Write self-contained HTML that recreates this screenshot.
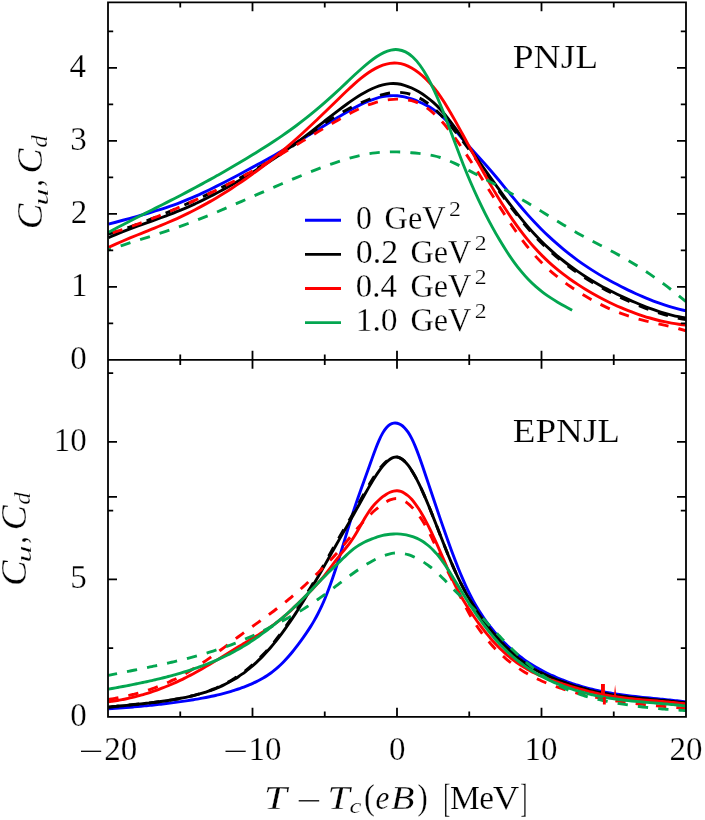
<!DOCTYPE html><html><head><meta charset="utf-8"><title>plot</title><style>html,body{margin:0;padding:0;background:#fff}svg{display:block;will-change:transform}text{font-family:"Liberation Serif",serif;fill:#000;stroke:#fff;stroke-width:0.25px}</style></head><body>
<svg width="705" height="820" viewBox="0 0 705 820">
<rect width="705" height="820" fill="#fff"/>
<defs><clipPath id="ct"><rect x="108.0" y="2.3" width="578.0" height="357.5"/></clipPath><clipPath id="cb"><rect x="108.0" y="359.8" width="578.0" height="357.0"/></clipPath></defs>
<g clip-path="url(#ct)">
<path d="M108.43 224.22C110.84 223.55 113.25 222.89 115.65 222.23C118.06 221.57 120.47 220.91 122.87 220.26C125.28 219.60 127.69 218.95 130.09 218.29C132.50 217.63 134.91 216.96 137.31 216.29C139.72 215.62 142.12 214.93 144.53 214.24C146.94 213.54 149.34 212.84 151.75 212.11C154.16 211.39 156.56 210.65 158.97 209.88C161.38 209.12 163.78 208.33 166.19 207.52C168.60 206.71 171.00 205.87 173.41 205.01C175.82 204.14 178.22 203.24 180.63 202.31C183.04 201.38 185.44 200.42 187.85 199.42C190.26 198.42 192.66 197.40 195.07 196.34C197.48 195.28 199.88 194.20 202.29 193.09C204.69 191.98 207.10 190.85 209.51 189.69C211.91 188.54 214.32 187.36 216.73 186.16C219.13 184.97 221.54 183.75 223.95 182.52C226.35 181.29 228.76 180.04 231.17 178.78C233.57 177.51 235.98 176.24 238.39 174.95C240.79 173.67 243.20 172.37 245.61 171.07C248.01 169.77 250.42 168.46 252.83 167.14C255.23 165.83 257.64 164.51 260.04 163.18C262.45 161.86 264.86 160.53 267.26 159.19C269.67 157.85 272.08 156.50 274.48 155.15C276.89 153.80 279.30 152.44 281.70 151.07C284.11 149.70 286.52 148.31 288.92 146.92C291.33 145.53 293.74 144.13 296.14 142.72C298.55 141.30 300.96 139.88 303.36 138.44C305.77 137.00 308.18 135.54 310.58 134.08C312.99 132.62 315.39 131.16 317.80 129.68C320.21 128.21 322.61 126.74 325.02 125.26C327.43 123.79 329.83 122.32 332.24 120.85C334.65 119.38 337.05 117.92 339.46 116.47C341.87 115.03 344.27 113.59 346.68 112.19C349.09 110.79 351.49 109.42 353.90 108.11C356.31 106.80 358.71 105.55 361.12 104.39C363.53 103.22 365.93 102.13 368.34 101.15C370.74 100.17 373.15 99.29 375.56 98.54C377.96 97.79 380.37 97.17 382.78 96.69C385.18 96.21 387.59 95.88 390.00 95.73C392.40 95.57 394.81 95.58 397.22 95.78C399.62 95.98 402.03 96.37 404.44 96.92C406.84 97.46 409.25 98.16 411.66 98.97C414.06 99.79 416.47 100.72 418.88 101.73C421.28 102.75 423.69 103.84 426.10 105.09C428.50 106.34 430.91 107.74 433.31 109.35C435.72 110.97 438.13 112.80 440.53 114.91C442.94 117.03 445.35 119.42 447.75 121.98C450.16 124.54 452.57 127.27 454.97 130.05C457.38 132.83 459.79 135.66 462.19 138.43C464.60 141.21 467.01 143.93 469.41 146.62C471.82 149.32 474.23 151.99 476.63 154.66C479.04 157.33 481.45 160.01 483.85 162.72C486.26 165.43 488.66 168.17 491.07 170.98C493.48 173.78 495.88 176.65 498.29 179.55C500.70 182.46 503.10 185.39 505.51 188.33C507.92 191.27 510.32 194.21 512.73 197.13C515.14 200.05 517.54 202.94 519.95 205.78C522.36 208.63 524.76 211.42 527.17 214.12C529.58 216.83 531.98 219.46 534.39 222.01C536.80 224.56 539.20 227.03 541.61 229.43C544.01 231.83 546.42 234.15 548.83 236.41C551.23 238.66 553.64 240.85 556.05 242.96C558.45 245.08 560.86 247.13 563.27 249.12C565.67 251.10 568.08 253.03 570.49 254.89C572.89 256.76 575.30 258.56 577.71 260.31C580.11 262.06 582.52 263.75 584.93 265.39C587.33 267.03 589.74 268.61 592.15 270.15C594.55 271.69 596.96 273.18 599.37 274.63C601.77 276.07 604.18 277.47 606.58 278.83C608.99 280.20 611.40 281.52 613.80 282.80C616.21 284.08 618.62 285.33 621.02 286.55C623.43 287.76 625.84 288.95 628.24 290.10C630.65 291.26 633.06 292.38 635.46 293.48C637.87 294.58 640.28 295.64 642.68 296.67C645.09 297.70 647.50 298.69 649.90 299.65C652.31 300.61 654.72 301.53 657.12 302.41C659.53 303.29 661.93 304.13 664.34 304.93C666.75 305.72 669.15 306.48 671.56 307.18C673.97 307.89 676.37 308.55 678.78 309.16C681.19 309.77 683.59 310.33 686.00 310.84" fill="none" stroke="#0000ff" stroke-width="2.90"/>
<path d="M108.43 237.80C110.84 236.71 113.25 235.67 115.65 234.66C118.06 233.64 120.47 232.66 122.87 231.71C125.28 230.76 127.69 229.83 130.09 228.92C132.50 228.01 134.91 227.12 137.31 226.24C139.72 225.37 142.12 224.50 144.53 223.64C146.94 222.78 149.34 221.92 151.75 221.06C154.16 220.20 156.56 219.34 158.97 218.46C161.38 217.59 163.78 216.71 166.19 215.81C168.60 214.91 171.00 214.00 173.41 213.06C175.82 212.12 178.22 211.15 180.63 210.16C183.04 209.16 185.44 208.14 187.85 207.08C190.26 206.03 192.66 204.94 195.07 203.83C197.48 202.71 199.88 201.57 202.29 200.40C204.69 199.23 207.10 198.03 209.51 196.81C211.91 195.59 214.32 194.34 216.73 193.06C219.13 191.79 221.54 190.49 223.95 189.17C226.35 187.84 228.76 186.50 231.17 185.13C233.57 183.76 235.98 182.36 238.39 180.95C240.79 179.54 243.20 178.10 245.61 176.64C248.01 175.19 250.42 173.71 252.83 172.22C255.23 170.72 257.64 169.20 260.04 167.67C262.45 166.13 264.86 164.58 267.26 163.00C269.67 161.42 272.08 159.82 274.48 158.20C276.89 156.58 279.30 154.93 281.70 153.26C284.11 151.60 286.52 149.90 288.92 148.19C291.33 146.47 293.74 144.73 296.14 142.96C298.55 141.19 300.96 139.40 303.36 137.58C305.77 135.76 308.18 133.91 310.58 132.05C312.99 130.18 315.39 128.30 317.80 126.42C320.21 124.53 322.61 122.64 325.02 120.76C327.43 118.87 329.83 116.99 332.24 115.13C334.65 113.27 337.05 111.42 339.46 109.59C341.87 107.77 344.27 105.98 346.68 104.23C349.09 102.49 351.49 100.79 353.90 99.17C356.31 97.55 358.71 96.01 361.12 94.56C363.53 93.11 365.93 91.77 368.34 90.54C370.74 89.31 373.15 88.21 375.56 87.26C377.96 86.31 380.37 85.52 382.78 84.91C385.18 84.31 387.59 83.89 390.00 83.68C392.40 83.48 394.81 83.50 397.22 83.77C399.62 84.03 402.03 84.55 404.44 85.27C406.84 86.00 409.25 86.94 411.66 88.05C414.06 89.16 416.47 90.45 418.88 91.87C421.28 93.30 423.69 94.86 426.10 96.61C428.50 98.35 430.91 100.27 433.31 102.42C435.72 104.56 438.13 106.93 440.53 109.55C442.94 112.18 445.35 115.06 447.75 118.12C450.16 121.17 452.57 124.40 454.97 127.71C457.38 131.02 459.79 134.41 462.19 137.80C464.60 141.19 467.01 144.58 469.41 147.96C471.82 151.35 474.23 154.73 476.63 158.11C479.04 161.49 481.45 164.86 483.85 168.23C486.26 171.60 488.66 174.97 491.07 178.34C493.48 181.70 495.88 185.06 498.29 188.39C500.70 191.72 503.10 195.03 505.51 198.29C507.92 201.55 510.32 204.77 512.73 207.92C515.14 211.06 517.54 214.15 519.95 217.14C522.36 220.14 524.76 223.05 527.17 225.85C529.58 228.65 531.98 231.35 534.39 233.94C536.80 236.54 539.20 239.03 541.61 241.43C544.01 243.84 546.42 246.15 548.83 248.37C551.23 250.60 553.64 252.74 556.05 254.80C558.45 256.86 560.86 258.84 563.27 260.75C565.67 262.67 568.08 264.51 570.49 266.28C572.89 268.06 575.30 269.77 577.71 271.43C580.11 273.08 582.52 274.68 584.93 276.22C587.33 277.77 589.74 279.26 592.15 280.71C594.55 282.15 596.96 283.55 599.37 284.90C601.77 286.26 604.18 287.57 606.58 288.84C608.99 290.11 611.40 291.35 613.80 292.55C616.21 293.75 618.62 294.91 621.02 296.05C623.43 297.18 625.84 298.29 628.24 299.37C630.65 300.45 633.06 301.51 635.46 302.53C637.87 303.56 640.28 304.55 642.68 305.51C645.09 306.47 647.50 307.40 649.90 308.29C652.31 309.17 654.72 310.02 657.12 310.82C659.53 311.62 661.93 312.37 664.34 313.08C666.75 313.79 669.15 314.44 671.56 315.04C673.97 315.64 676.37 316.19 678.78 316.67C681.19 317.16 683.59 317.58 686.00 317.94" fill="none" stroke="#000000" stroke-width="2.90"/>
<path d="M108.00 234.21C110.41 233.48 112.82 232.73 115.22 231.96C117.63 231.19 120.04 230.40 122.45 229.59C124.86 228.78 127.27 227.94 129.68 227.09C132.08 226.24 134.49 225.37 136.90 224.48C139.31 223.59 141.72 222.69 144.12 221.77C146.53 220.85 148.94 219.91 151.35 218.95C153.76 218.00 156.17 217.03 158.57 216.05C160.98 215.07 163.39 214.07 165.80 213.06C168.21 212.05 170.62 211.03 173.03 210.00C175.43 208.96 177.84 207.92 180.25 206.86C182.66 205.81 185.07 204.74 187.47 203.67C189.88 202.59 192.29 201.50 194.70 200.40C197.11 199.30 199.52 198.19 201.93 197.06C204.33 195.93 206.74 194.79 209.15 193.64C211.56 192.48 213.97 191.31 216.38 190.13C218.78 188.94 221.19 187.74 223.60 186.52C226.01 185.30 228.42 184.07 230.82 182.81C233.23 181.56 235.64 180.29 238.05 178.99C240.46 177.70 242.87 176.39 245.28 175.06C247.68 173.73 250.09 172.38 252.50 171.00C254.91 169.63 257.32 168.23 259.73 166.81C262.13 165.40 264.54 163.96 266.95 162.49C269.36 161.03 271.77 159.55 274.18 158.04C276.58 156.53 278.99 155.00 281.40 153.44C283.81 151.89 286.22 150.31 288.62 148.71C291.03 147.11 293.44 145.49 295.85 143.84C298.26 142.19 300.67 140.52 303.07 138.82C305.48 137.12 307.89 135.40 310.30 133.68C312.71 131.95 315.12 130.22 317.52 128.51C319.93 126.79 322.34 125.09 324.75 123.43C327.16 121.76 329.57 120.14 331.98 118.56C334.38 116.99 336.79 115.48 339.20 114.04C341.61 112.59 344.02 111.23 346.43 109.93C348.83 108.63 351.24 107.40 353.65 106.22C356.06 105.04 358.47 103.92 360.88 102.85C363.28 101.78 365.69 100.75 368.10 99.76C370.51 98.78 372.92 97.82 375.32 96.95C377.73 96.08 380.14 95.29 382.55 94.61C384.96 93.94 387.37 93.38 389.77 92.99C392.18 92.60 394.59 92.36 397.00 92.33C399.41 92.30 401.82 92.47 404.23 92.85C406.63 93.23 409.04 93.82 411.45 94.62C413.86 95.42 416.27 96.43 418.68 97.67C421.08 98.91 423.49 100.36 425.90 102.03C428.31 103.69 430.72 105.56 433.12 107.63C435.53 109.70 437.94 111.97 440.35 114.42C442.76 116.87 445.17 119.51 447.57 122.29C449.98 125.06 452.39 127.98 454.80 130.99C457.21 134.00 459.62 137.11 462.02 140.27C464.43 143.43 466.84 146.64 469.25 149.88C471.66 153.13 474.07 156.42 476.48 159.72C478.88 163.03 481.29 166.37 483.70 169.71C486.11 173.06 488.52 176.41 490.93 179.77C493.33 183.12 495.74 186.48 498.15 189.80C500.56 193.13 502.97 196.44 505.38 199.70C507.78 202.97 510.19 206.19 512.60 209.34C515.01 212.49 517.42 215.58 519.83 218.59C522.23 221.59 524.64 224.50 527.05 227.31C529.46 230.12 531.87 232.82 534.27 235.42C536.68 238.03 539.09 240.53 541.50 242.93C543.91 245.34 546.32 247.66 548.73 249.89C551.13 252.12 553.54 254.26 555.95 256.32C558.36 258.39 560.77 260.37 563.17 262.29C565.58 264.20 567.99 266.05 570.40 267.82C572.81 269.60 575.22 271.32 577.62 272.97C580.03 274.63 582.44 276.23 584.85 277.78C587.26 279.33 589.67 280.82 592.08 282.27C594.48 283.72 596.89 285.12 599.30 286.47C601.71 287.83 604.12 289.14 606.52 290.42C608.93 291.69 611.34 292.93 613.75 294.13C616.16 295.33 618.57 296.49 620.98 297.63C623.38 298.77 625.79 299.87 628.20 300.96C630.61 302.04 633.02 303.10 635.42 304.12C637.83 305.15 640.24 306.15 642.65 307.11C645.06 308.07 647.47 309.00 649.88 309.88C652.28 310.77 654.69 311.61 657.10 312.42C659.51 313.22 661.92 313.97 664.33 314.68C666.73 315.39 669.14 316.04 671.55 316.64C673.96 317.24 676.37 317.79 678.77 318.28C681.18 318.76 683.59 319.19 686.00 319.55" fill="none" stroke="#000000" stroke-width="2.90" stroke-dasharray="10.3 10.15" stroke-dashoffset="0.0"/>
<path d="M108.43 247.47C110.84 246.33 113.25 245.23 115.65 244.15C118.06 243.08 120.47 242.03 122.87 241.00C125.28 239.97 127.69 238.96 130.09 237.96C132.50 236.96 134.91 235.98 137.31 235.00C139.72 234.03 142.12 233.06 144.53 232.09C146.94 231.12 149.34 230.16 151.75 229.18C154.16 228.21 156.56 227.23 158.97 226.24C161.38 225.25 163.78 224.25 166.19 223.22C168.60 222.20 171.00 221.16 173.41 220.10C175.82 219.03 178.22 217.94 180.63 216.82C183.04 215.70 185.44 214.55 187.85 213.36C190.26 212.18 192.66 210.96 195.07 209.72C197.48 208.47 199.88 207.19 202.29 205.89C204.69 204.58 207.10 203.24 209.51 201.87C211.91 200.50 214.32 199.10 216.73 197.66C219.13 196.23 221.54 194.77 223.95 193.27C226.35 191.77 228.76 190.25 231.17 188.69C233.57 187.13 235.98 185.54 238.39 183.92C240.79 182.31 243.20 180.65 245.61 178.97C248.01 177.29 250.42 175.58 252.83 173.83C255.23 172.09 257.64 170.31 260.04 168.50C262.45 166.70 264.86 164.86 267.26 162.99C269.67 161.12 272.08 159.21 274.48 157.28C276.89 155.34 279.30 153.38 281.70 151.38C284.11 149.38 286.52 147.34 288.92 145.28C291.33 143.21 293.74 141.11 296.14 138.98C298.55 136.85 300.96 134.68 303.36 132.48C305.77 130.28 308.18 128.05 310.58 125.79C312.99 123.53 315.39 121.25 317.80 118.95C320.21 116.64 322.61 114.32 325.02 111.99C327.43 109.67 329.83 107.33 332.24 104.98C334.65 102.64 337.05 100.30 339.46 97.96C341.87 95.62 344.27 93.29 346.68 91.01C349.09 88.72 351.49 86.49 353.90 84.34C356.31 82.18 358.71 80.12 361.12 78.18C363.53 76.24 365.93 74.42 368.34 72.77C370.74 71.12 373.15 69.64 375.56 68.35C377.96 67.06 380.37 65.98 382.78 65.13C385.18 64.28 387.59 63.66 390.00 63.32C392.40 62.98 394.81 62.91 397.22 63.14C399.62 63.38 402.03 63.91 404.44 64.74C406.84 65.56 409.25 66.66 411.66 68.02C414.06 69.38 416.47 71.01 418.88 72.86C421.28 74.72 423.69 76.82 426.10 79.17C428.50 81.53 430.91 84.14 433.31 87.04C435.72 89.94 438.13 93.12 440.53 96.61C442.94 100.10 445.35 103.89 447.75 107.89C450.16 111.88 452.57 116.09 454.97 120.40C457.38 124.71 459.79 129.13 462.19 133.55C464.60 137.98 467.01 142.42 469.41 146.85C471.82 151.28 474.23 155.69 476.63 160.07C479.04 164.44 481.45 168.77 483.85 173.04C486.26 177.31 488.66 181.51 491.07 185.62C493.48 189.72 495.88 193.74 498.29 197.66C500.70 201.57 503.10 205.38 505.51 209.08C507.92 212.78 510.32 216.37 512.73 219.84C515.14 223.31 517.54 226.65 519.95 229.86C522.36 233.08 524.76 236.16 527.17 239.10C529.58 242.04 531.98 244.84 534.39 247.51C536.80 250.18 539.20 252.72 541.61 255.14C544.01 257.57 546.42 259.88 548.83 262.08C551.23 264.29 553.64 266.39 556.05 268.40C558.45 270.41 560.86 272.34 563.27 274.18C565.67 276.02 568.08 277.79 570.49 279.49C572.89 281.19 575.30 282.82 577.71 284.41C580.11 285.99 582.52 287.52 584.93 289.00C587.33 290.48 589.74 291.91 592.15 293.29C594.55 294.67 596.96 296.00 599.37 297.28C601.77 298.57 604.18 299.80 606.58 301.00C608.99 302.19 611.40 303.34 613.80 304.45C616.21 305.55 618.62 306.62 621.02 307.64C623.43 308.67 625.84 309.65 628.24 310.59C630.65 311.54 633.06 312.44 635.46 313.31C637.87 314.18 640.28 315.00 642.68 315.79C645.09 316.57 647.50 317.31 649.90 318.01C652.31 318.71 654.72 319.36 657.12 319.97C659.53 320.58 661.93 321.15 664.34 321.66C666.75 322.18 669.15 322.65 671.56 323.07C673.97 323.50 676.37 323.87 678.78 324.19C681.19 324.51 683.59 324.79 686.00 325.01" fill="none" stroke="#ff0000" stroke-width="2.90"/>
<path d="M108.00 234.21C110.41 233.48 112.82 232.73 115.22 231.96C117.63 231.19 120.04 230.39 122.45 229.58C124.86 228.77 127.27 227.94 129.68 227.08C132.08 226.23 134.49 225.36 136.90 224.48C139.31 223.59 141.72 222.69 144.12 221.77C146.53 220.85 148.94 219.91 151.35 218.96C153.76 218.00 156.17 217.04 158.57 216.06C160.98 215.07 163.39 214.08 165.80 213.07C168.21 212.06 170.62 211.04 173.03 210.01C175.43 208.97 177.84 207.93 180.25 206.87C182.66 205.81 185.07 204.75 187.47 203.67C189.88 202.59 192.29 201.50 194.70 200.39C197.11 199.29 199.52 198.18 201.93 197.05C204.33 195.92 206.74 194.77 209.15 193.62C211.56 192.46 213.97 191.29 216.38 190.10C218.78 188.92 221.19 187.72 223.60 186.50C226.01 185.28 228.42 184.05 230.82 182.80C233.23 181.55 235.64 180.29 238.05 179.01C240.46 177.72 242.87 176.42 245.28 175.10C247.68 173.78 250.09 172.45 252.50 171.09C254.91 169.73 257.32 168.36 259.73 166.97C262.13 165.58 264.54 164.17 266.95 162.75C269.36 161.33 271.77 159.90 274.18 158.45C276.58 157.01 278.99 155.56 281.40 154.10C283.81 152.64 286.22 151.18 288.62 149.71C291.03 148.24 293.44 146.77 295.85 145.30C298.26 143.83 300.67 142.35 303.07 140.88C305.48 139.42 307.89 137.95 310.30 136.49C312.71 135.03 315.12 133.57 317.52 132.12C319.93 130.68 322.34 129.24 324.75 127.81C327.16 126.38 329.57 124.96 331.98 123.56C334.38 122.15 336.79 120.76 339.20 119.38C341.61 118.00 344.02 116.64 346.43 115.32C348.83 114.00 351.24 112.71 353.65 111.48C356.06 110.25 358.47 109.08 360.88 107.99C363.28 106.90 365.69 105.89 368.10 104.98C370.51 104.07 372.92 103.26 375.32 102.55C377.73 101.85 380.14 101.25 382.55 100.76C384.96 100.27 387.37 99.89 389.77 99.62C392.18 99.35 394.59 99.20 397.00 99.16C399.41 99.12 401.82 99.20 404.23 99.44C406.63 99.68 409.04 100.09 411.45 100.71C413.86 101.33 416.27 102.16 418.68 103.25C421.08 104.34 423.49 105.69 425.90 107.29C428.31 108.89 430.72 110.74 433.12 112.83C435.53 114.93 437.94 117.27 440.35 119.84C442.76 122.42 445.17 125.23 447.57 128.22C449.98 131.22 452.39 134.40 454.80 137.72C457.21 141.03 459.62 144.48 462.02 148.02C464.43 151.55 466.84 155.16 469.25 158.84C471.66 162.52 474.07 166.25 476.48 170.03C478.88 173.81 481.29 177.62 483.70 181.45C486.11 185.28 488.52 189.12 490.93 192.96C493.33 196.80 495.74 200.64 498.15 204.43C500.56 208.23 502.97 211.99 505.38 215.68C507.78 219.37 510.19 223.00 512.60 226.52C515.01 230.05 517.42 233.48 519.83 236.77C522.23 240.07 524.64 243.24 527.05 246.25C529.46 249.26 531.87 252.11 534.27 254.82C536.68 257.52 539.09 260.08 541.50 262.52C543.91 264.95 546.32 267.25 548.73 269.45C551.13 271.64 553.54 273.72 555.95 275.70C558.36 277.68 560.77 279.56 563.17 281.37C565.58 283.17 567.99 284.89 570.40 286.55C572.81 288.21 575.22 289.80 577.62 291.34C580.03 292.88 582.44 294.37 584.85 295.80C587.26 297.24 589.67 298.63 592.08 299.97C594.48 301.30 596.89 302.58 599.30 303.81C601.71 305.04 604.12 306.22 606.52 307.34C608.93 308.47 611.34 309.53 613.75 310.55C616.16 311.56 618.57 312.52 620.98 313.42C623.38 314.32 625.79 315.17 628.20 315.95C630.61 316.74 633.02 317.47 635.42 318.16C637.83 318.85 640.24 319.49 642.65 320.10C645.06 320.72 647.47 321.30 649.88 321.87C652.28 322.43 654.69 322.98 657.10 323.53C659.51 324.07 661.92 324.62 664.33 325.17C666.73 325.73 669.14 326.29 671.55 326.88C673.96 327.47 676.37 328.08 678.77 328.73C681.18 329.38 683.59 330.06 686.00 330.80" fill="none" stroke="#ff0000" stroke-width="2.90" stroke-dasharray="10.3 10.15" stroke-dashoffset="15.6"/>
<path d="M108.43 232.32C110.85 231.02 113.26 229.74 115.68 228.46C118.09 227.19 120.51 225.93 122.92 224.68C125.34 223.43 127.75 222.18 130.17 220.95C132.58 219.71 135.00 218.48 137.41 217.25C139.83 216.03 142.24 214.81 144.66 213.59C147.08 212.37 149.49 211.16 151.91 209.94C154.32 208.72 156.74 207.51 159.15 206.29C161.57 205.07 163.98 203.84 166.40 202.62C168.81 201.39 171.23 200.16 173.64 198.92C176.06 197.68 178.47 196.44 180.89 195.18C183.30 193.92 185.72 192.66 188.13 191.39C190.55 190.11 192.96 188.83 195.38 187.53C197.79 186.24 200.21 184.93 202.62 183.62C205.04 182.30 207.45 180.98 209.87 179.64C212.28 178.30 214.70 176.95 217.11 175.60C219.53 174.24 221.94 172.87 224.36 171.48C226.77 170.10 229.19 168.71 231.60 167.30C234.02 165.90 236.43 164.48 238.85 163.05C241.26 161.62 243.68 160.18 246.09 158.72C248.51 157.27 250.92 155.80 253.34 154.32C255.76 152.83 258.17 151.34 260.59 149.83C263.00 148.31 265.42 146.78 267.83 145.23C270.25 143.67 272.66 142.10 275.08 140.50C277.49 138.89 279.91 137.26 282.32 135.60C284.74 133.94 287.15 132.25 289.57 130.52C291.98 128.80 294.40 127.03 296.81 125.23C299.23 123.43 301.64 121.59 304.06 119.70C306.47 117.82 308.89 115.89 311.30 113.92C313.72 111.95 316.13 109.94 318.55 107.89C320.96 105.84 323.38 103.75 325.79 101.62C328.21 99.50 330.62 97.33 333.04 95.14C335.45 92.94 337.87 90.70 340.28 88.44C342.70 86.17 345.11 83.88 347.53 81.59C349.94 79.30 352.36 77.02 354.77 74.78C357.19 72.54 359.60 70.34 362.02 68.22C364.43 66.10 366.85 64.05 369.27 62.12C371.68 60.18 374.10 58.37 376.51 56.75C378.93 55.13 381.34 53.71 383.76 52.57C386.17 51.43 388.59 50.57 391.00 50.06C393.42 49.56 395.83 49.41 398.25 49.70C400.66 50.00 403.08 50.72 405.49 51.92C407.91 53.13 410.32 54.81 412.74 57.01C415.15 59.22 417.57 61.95 419.98 65.24C422.40 68.53 424.81 72.38 427.23 76.70C429.64 81.03 432.06 85.83 434.47 91.06C436.89 96.28 439.30 101.93 441.72 107.92C444.13 113.90 446.55 120.22 448.96 126.65C451.38 133.08 453.79 139.62 456.21 146.08C458.62 152.54 461.04 158.90 463.45 164.99C465.87 171.07 468.28 176.90 470.70 182.50C473.11 188.10 475.53 193.48 477.94 198.64C480.36 203.81 482.78 208.77 485.19 213.54C487.61 218.32 490.02 222.91 492.44 227.33C494.85 231.76 497.27 236.01 499.68 240.09C502.10 244.17 504.51 248.07 506.93 251.78C509.34 255.49 511.76 259.01 514.17 262.33C516.59 265.65 519.00 268.78 521.42 271.69C523.83 274.61 526.25 277.32 528.66 279.81C531.08 282.31 533.49 284.59 535.91 286.71C538.32 288.83 540.74 290.77 543.15 292.58C545.57 294.40 547.98 296.08 550.40 297.66C552.81 299.24 555.23 300.73 557.64 302.15C560.06 303.58 562.47 304.95 564.89 306.29C567.30 307.63 569.72 308.95 572.13 310.29" fill="none" stroke="#03a650" stroke-width="2.90"/>
<path d="M108.00 250.22C110.41 249.36 112.82 248.53 115.22 247.71C117.63 246.89 120.04 246.09 122.45 245.30C124.86 244.50 127.27 243.72 129.68 242.95C132.08 242.17 134.49 241.40 136.90 240.64C139.31 239.87 141.72 239.11 144.12 238.35C146.53 237.59 148.94 236.83 151.35 236.06C153.76 235.29 156.17 234.52 158.57 233.74C160.98 232.96 163.39 232.18 165.80 231.38C168.21 230.58 170.62 229.77 173.03 228.94C175.43 228.11 177.84 227.27 180.25 226.41C182.66 225.54 185.07 224.66 187.47 223.76C189.88 222.86 192.29 221.94 194.70 221.01C197.11 220.08 199.52 219.13 201.93 218.17C204.33 217.21 206.74 216.23 209.15 215.24C211.56 214.25 213.97 213.25 216.38 212.24C218.78 211.24 221.19 210.22 223.60 209.19C226.01 208.16 228.42 207.13 230.82 206.09C233.23 205.05 235.64 204.00 238.05 202.95C240.46 201.90 242.87 200.84 245.28 199.79C247.68 198.73 250.09 197.67 252.50 196.61C254.91 195.55 257.32 194.49 259.73 193.44C262.13 192.38 264.54 191.32 266.95 190.27C269.36 189.22 271.77 188.17 274.18 187.12C276.58 186.08 278.99 185.04 281.40 184.00C283.81 182.97 286.22 181.94 288.62 180.92C291.03 179.90 293.44 178.89 295.85 177.89C298.26 176.88 300.67 175.89 303.07 174.91C305.48 173.92 307.89 172.95 310.30 171.99C312.71 171.03 315.12 170.09 317.52 169.16C319.93 168.24 322.34 167.33 324.75 166.44C327.16 165.55 329.57 164.68 331.98 163.84C334.38 163.00 336.79 162.18 339.20 161.39C341.61 160.59 344.02 159.83 346.43 159.10C348.83 158.38 351.24 157.69 353.65 157.05C356.06 156.41 358.47 155.81 360.88 155.28C363.28 154.75 365.69 154.27 368.10 153.86C370.51 153.46 372.92 153.12 375.32 152.85C377.73 152.57 380.14 152.36 382.55 152.21C384.96 152.05 387.37 151.96 389.77 151.91C392.18 151.86 394.59 151.87 397.00 151.92C399.41 151.97 401.82 152.06 404.23 152.19C406.63 152.33 409.04 152.50 411.45 152.70C413.86 152.91 416.27 153.14 418.68 153.40C421.08 153.67 423.49 153.96 425.90 154.31C428.31 154.66 430.72 155.08 433.12 155.60C435.53 156.12 437.94 156.74 440.35 157.50C442.76 158.26 445.17 159.15 447.57 160.15C449.98 161.14 452.39 162.23 454.80 163.38C457.21 164.53 459.62 165.74 462.02 166.95C464.43 168.17 466.84 169.41 469.25 170.65C471.66 171.90 474.07 173.16 476.48 174.43C478.88 175.70 481.29 176.98 483.70 178.27C486.11 179.56 488.52 180.85 490.93 182.16C493.33 183.46 495.74 184.78 498.15 186.10C500.56 187.42 502.97 188.75 505.38 190.09C507.78 191.44 510.19 192.79 512.60 194.16C515.01 195.53 517.42 196.91 519.83 198.31C522.23 199.72 524.64 201.13 527.05 202.57C529.46 204.01 531.87 205.47 534.27 206.94C536.68 208.41 539.09 209.89 541.50 211.38C543.91 212.87 546.32 214.36 548.73 215.85C551.13 217.34 553.54 218.83 555.95 220.30C558.36 221.78 560.77 223.25 563.17 224.70C565.58 226.15 567.99 227.58 570.40 228.99C572.81 230.40 575.22 231.79 577.62 233.14C580.03 234.49 582.44 235.81 584.85 237.11C587.26 238.41 589.67 239.68 592.08 240.95C594.48 242.22 596.89 243.47 599.30 244.72C601.71 245.98 604.12 247.23 606.52 248.49C608.93 249.75 611.34 251.02 613.75 252.31C616.16 253.60 618.57 254.91 620.98 256.25C623.38 257.59 625.79 258.96 628.20 260.37C630.61 261.78 633.02 263.23 635.42 264.72C637.83 266.21 640.24 267.74 642.65 269.31C645.06 270.88 647.47 272.49 649.88 274.13C652.28 275.78 654.69 277.46 657.10 279.18C659.51 280.90 661.92 282.66 664.33 284.46C666.73 286.26 669.14 288.09 671.55 289.96C673.96 291.82 676.37 293.73 678.77 295.67C681.18 297.61 683.59 299.59 686.00 301.60" fill="none" stroke="#03a650" stroke-width="2.90" stroke-dasharray="10.3 10.15" stroke-dashoffset="7.1"/>
</g>
<g clip-path="url(#cb)">
<path d="M108.43 708.83C109.64 708.75 110.84 708.67 112.04 708.59C113.25 708.50 114.45 708.42 115.65 708.33C116.86 708.25 118.06 708.16 119.26 708.07C120.47 707.98 121.67 707.89 122.87 707.80C124.08 707.70 125.28 707.61 126.48 707.51C127.69 707.42 128.89 707.32 130.09 707.22C131.30 707.12 132.50 707.02 133.70 706.91C134.91 706.81 136.11 706.70 137.31 706.60C138.52 706.49 139.72 706.38 140.92 706.27C142.12 706.15 143.33 706.04 144.53 705.92C145.73 705.81 146.94 705.69 148.14 705.57C149.34 705.45 150.55 705.32 151.75 705.20C152.95 705.07 154.16 704.94 155.36 704.81C156.56 704.68 157.77 704.55 158.97 704.41C160.17 704.27 161.38 704.14 162.58 703.99C163.78 703.85 164.99 703.71 166.19 703.56C167.39 703.41 168.60 703.26 169.80 703.11C171.00 702.96 172.21 702.80 173.41 702.64C174.61 702.49 175.82 702.32 177.02 702.16C178.22 701.99 179.43 701.83 180.63 701.66C181.83 701.48 183.04 701.31 184.24 701.13C185.44 700.96 186.65 700.77 187.85 700.59C189.05 700.41 190.26 700.22 191.46 700.03C192.66 699.84 193.87 699.64 195.07 699.44C196.27 699.24 197.48 699.03 198.68 698.82C199.88 698.61 201.08 698.40 202.29 698.17C203.49 697.95 204.69 697.72 205.90 697.49C207.10 697.25 208.30 697.01 209.51 696.76C210.71 696.51 211.91 696.26 213.12 695.99C214.32 695.73 215.52 695.45 216.73 695.17C217.93 694.89 219.13 694.60 220.34 694.30C221.54 694.00 222.74 693.69 223.95 693.37C225.15 693.05 226.35 692.72 227.56 692.38C228.76 692.04 229.96 691.69 231.17 691.32C232.37 690.96 233.57 690.58 234.78 690.20C235.98 689.81 237.18 689.41 238.39 689.00C239.59 688.59 240.79 688.16 242.00 687.73C243.20 687.29 244.40 686.84 245.61 686.37C246.81 685.90 248.01 685.42 249.22 684.92C250.42 684.42 251.62 683.91 252.83 683.36C254.03 682.82 255.23 682.26 256.43 681.67C257.64 681.08 258.84 680.46 260.04 679.81C261.25 679.16 262.45 678.48 263.65 677.76C264.86 677.04 266.06 676.29 267.26 675.49C268.47 674.70 269.67 673.87 270.87 672.99C272.08 672.11 273.28 671.19 274.48 670.22C275.69 669.24 276.89 668.23 278.09 667.15C279.30 666.08 280.50 664.95 281.70 663.77C282.91 662.59 284.11 661.35 285.31 660.06C286.52 658.77 287.72 657.43 288.92 656.04C290.13 654.65 291.33 653.21 292.53 651.73C293.74 650.25 294.94 648.73 296.14 647.16C297.35 645.60 298.55 644.00 299.75 642.37C300.96 640.73 302.16 639.06 303.36 637.37C304.57 635.67 305.77 633.94 306.97 632.15C308.18 630.37 309.38 628.53 310.58 626.62C311.79 624.70 312.99 622.71 314.19 620.61C315.39 618.52 316.60 616.33 317.80 614.01C319.00 611.70 320.21 609.26 321.41 606.68C322.61 604.09 323.82 601.37 325.02 598.47C326.22 595.57 327.43 592.51 328.63 589.30C329.83 586.10 331.04 582.75 332.24 579.27C333.44 575.79 334.65 572.19 335.85 568.48C337.05 564.78 338.26 560.96 339.46 557.06C340.66 553.17 341.87 549.18 343.07 545.17C344.27 541.17 345.48 537.13 346.68 533.12C347.88 529.12 349.09 525.14 350.29 521.24C351.49 517.35 352.70 513.54 353.90 509.87C355.10 506.20 356.31 502.66 357.51 499.20C358.71 495.75 359.92 492.38 361.12 489.04C362.32 485.71 363.53 482.41 364.73 479.10C365.93 475.79 367.14 472.46 368.34 469.07C369.54 465.69 370.74 462.25 371.95 458.87C373.15 455.49 374.35 452.16 375.56 449.00C376.76 445.84 377.96 442.84 379.17 440.12C380.37 437.39 381.57 434.94 382.78 432.87C383.98 430.79 385.18 429.09 386.39 427.72C387.59 426.35 388.79 425.31 390.00 424.56C391.20 423.81 392.40 423.36 393.61 423.16C394.81 422.96 396.01 423.01 397.22 423.28C398.42 423.54 399.62 424.03 400.83 424.76C402.03 425.48 403.23 426.45 404.44 427.68C405.64 428.91 406.84 430.41 408.05 432.19C409.25 433.97 410.45 436.04 411.66 438.42C412.86 440.79 414.06 443.47 415.27 446.38C416.47 449.29 417.67 452.43 418.88 455.72C420.08 459.01 421.28 462.45 422.49 465.97C423.69 469.49 424.89 473.09 426.10 476.69C427.30 480.28 428.50 483.89 429.70 487.49C430.91 491.09 432.11 494.69 433.31 498.27C434.52 501.86 435.72 505.44 436.92 509.00C438.13 512.56 439.33 516.10 440.53 519.61C441.74 523.13 442.94 526.62 444.14 530.07C445.35 533.52 446.55 536.94 447.75 540.30C448.96 543.67 450.16 546.99 451.36 550.24C452.57 553.50 453.77 556.70 454.97 559.83C456.18 562.95 457.38 566.01 458.58 568.99C459.79 571.96 460.99 574.86 462.19 577.67C463.40 580.48 464.60 583.20 465.80 585.82C467.01 588.44 468.21 590.97 469.41 593.39C470.62 595.81 471.82 598.13 473.02 600.35C474.23 602.57 475.43 604.70 476.63 606.74C477.84 608.78 479.04 610.74 480.24 612.62C481.45 614.50 482.65 616.30 483.85 618.04C485.05 619.78 486.26 621.46 487.46 623.08C488.66 624.69 489.87 626.26 491.07 627.77C492.27 629.29 493.48 630.76 494.68 632.19C495.88 633.61 497.09 635.00 498.29 636.34C499.49 637.68 500.70 638.98 501.90 640.24C503.10 641.50 504.31 642.72 505.51 643.90C506.71 645.08 507.92 646.23 509.12 647.34C510.32 648.45 511.53 649.53 512.73 650.57C513.93 651.62 515.14 652.63 516.34 653.61C517.54 654.59 518.75 655.54 519.95 656.46C521.15 657.38 522.36 658.28 523.56 659.14C524.76 660.01 525.97 660.85 527.17 661.67C528.37 662.48 529.58 663.28 530.78 664.04C531.98 664.81 533.19 665.55 534.39 666.28C535.59 667.00 536.80 667.70 538.00 668.38C539.20 669.06 540.41 669.72 541.61 670.36C542.81 671.00 544.01 671.62 545.22 672.23C546.42 672.83 547.62 673.42 548.83 673.99C550.03 674.56 551.23 675.12 552.44 675.66C553.64 676.20 554.84 676.73 556.05 677.24C557.25 677.76 558.45 678.26 559.66 678.75C560.86 679.24 562.06 679.72 563.27 680.18C564.47 680.65 565.67 681.10 566.88 681.54C568.08 681.98 569.28 682.41 570.49 682.83C571.69 683.25 572.89 683.66 574.10 684.06C575.30 684.45 576.50 684.84 577.71 685.21C578.91 685.59 580.11 685.95 581.32 686.31C582.52 686.66 583.72 687.00 584.93 687.34C586.13 687.67 587.33 687.99 588.54 688.31C589.74 688.62 590.94 688.93 592.15 689.22C593.35 689.52 594.55 689.80 595.76 690.08C596.96 690.36 598.16 690.62 599.37 690.88C600.57 691.14 601.77 691.39 602.97 691.64C604.18 691.88 605.38 692.11 606.58 692.34C607.79 692.57 608.99 692.78 610.19 693.00C611.40 693.21 612.60 693.41 613.80 693.61C615.01 693.80 616.21 693.99 617.41 694.18C618.62 694.36 619.82 694.54 621.02 694.71C622.23 694.88 623.43 695.05 624.63 695.21C625.84 695.37 627.04 695.53 628.24 695.68C629.45 695.83 630.65 695.98 631.85 696.12C633.06 696.27 634.26 696.41 635.46 696.54C636.67 696.68 637.87 696.81 639.07 696.94C640.28 697.07 641.48 697.20 642.68 697.33C643.89 697.45 645.09 697.57 646.29 697.69C647.50 697.82 648.70 697.94 649.90 698.05C651.11 698.17 652.31 698.29 653.51 698.41C654.72 698.52 655.92 698.64 657.12 698.76C658.32 698.87 659.53 698.99 660.73 699.11C661.93 699.23 663.14 699.34 664.34 699.46C665.54 699.58 666.75 699.70 667.95 699.83C669.15 699.95 670.36 700.07 671.56 700.20C672.76 700.32 673.97 700.45 675.17 700.58C676.37 700.72 677.58 700.85 678.78 700.99C679.98 701.13 681.19 701.27 682.39 701.42C683.59 701.56 684.80 701.71 686.00 701.87" fill="none" stroke="#0000ff" stroke-width="2.90"/>
<path d="M108.43 707.17C109.64 707.04 110.84 706.92 112.04 706.79C113.25 706.67 114.45 706.55 115.65 706.42C116.86 706.30 118.06 706.18 119.26 706.06C120.47 705.94 121.67 705.82 122.87 705.71C124.08 705.59 125.28 705.47 126.48 705.35C127.69 705.23 128.89 705.11 130.09 705.00C131.30 704.88 132.50 704.76 133.70 704.63C134.91 704.51 136.11 704.39 137.31 704.27C138.52 704.14 139.72 704.02 140.92 703.89C142.12 703.76 143.33 703.63 144.53 703.50C145.73 703.37 146.94 703.23 148.14 703.09C149.34 702.96 150.55 702.82 151.75 702.67C152.95 702.53 154.16 702.38 155.36 702.23C156.56 702.07 157.77 701.92 158.97 701.76C160.17 701.60 161.38 701.43 162.58 701.26C163.78 701.09 164.99 700.92 166.19 700.74C167.39 700.56 168.60 700.37 169.80 700.18C171.00 699.99 172.21 699.79 173.41 699.59C174.61 699.38 175.82 699.17 177.02 698.95C178.22 698.74 179.43 698.51 180.63 698.28C181.83 698.05 183.04 697.81 184.24 697.56C185.44 697.32 186.65 697.06 187.85 696.80C189.05 696.54 190.26 696.27 191.46 695.99C192.66 695.71 193.87 695.42 195.07 695.11C196.27 694.81 197.48 694.50 198.68 694.17C199.88 693.85 201.08 693.51 202.29 693.15C203.49 692.80 204.69 692.43 205.90 692.05C207.10 691.66 208.30 691.26 209.51 690.84C210.71 690.43 211.91 689.99 213.12 689.54C214.32 689.08 215.52 688.61 216.73 688.11C217.93 687.62 219.13 687.11 220.34 686.57C221.54 686.03 222.74 685.47 223.95 684.89C225.15 684.31 226.35 683.70 227.56 683.07C228.76 682.44 229.96 681.78 231.17 681.10C232.37 680.42 233.57 679.71 234.78 678.97C235.98 678.23 237.18 677.47 238.39 676.67C239.59 675.88 240.79 675.05 242.00 674.19C243.20 673.34 244.40 672.45 245.61 671.53C246.81 670.61 248.01 669.65 249.22 668.67C250.42 667.68 251.62 666.66 252.83 665.61C254.03 664.55 255.23 663.47 256.43 662.35C257.64 661.23 258.84 660.07 260.04 658.88C261.25 657.69 262.45 656.47 263.65 655.21C264.86 653.95 266.06 652.65 267.26 651.32C268.47 649.99 269.67 648.62 270.87 647.22C272.08 645.82 273.28 644.38 274.48 642.91C275.69 641.43 276.89 639.92 278.09 638.37C279.30 636.83 280.50 635.24 281.70 633.62C282.91 631.99 284.11 630.33 285.31 628.64C286.52 626.95 287.72 625.22 288.92 623.46C290.13 621.70 291.33 619.92 292.53 618.10C293.74 616.29 294.94 614.45 296.14 612.59C297.35 610.73 298.55 608.84 299.75 606.94C300.96 605.03 302.16 603.11 303.36 601.17C304.57 599.24 305.77 597.28 306.97 595.31C308.18 593.34 309.38 591.36 310.58 589.36C311.79 587.36 312.99 585.35 314.19 583.32C315.39 581.29 316.60 579.24 317.80 577.18C319.00 575.12 320.21 573.05 321.41 570.96C322.61 568.87 323.82 566.77 325.02 564.65C326.22 562.54 327.43 560.41 328.63 558.27C329.83 556.13 331.04 553.99 332.24 551.85C333.44 549.71 334.65 547.57 335.85 545.45C337.05 543.32 338.26 541.20 339.46 539.10C340.66 537.00 341.87 534.91 343.07 532.84C344.27 530.76 345.48 528.68 346.68 526.61C347.88 524.53 349.09 522.45 350.29 520.35C351.49 518.25 352.70 516.14 353.90 514.00C355.10 511.86 356.31 509.69 357.51 507.52C358.71 505.35 359.92 503.17 361.12 500.99C362.32 498.81 363.53 496.64 364.73 494.49C365.93 492.34 367.14 490.21 368.34 488.12C369.54 486.03 370.74 483.97 371.95 481.98C373.15 479.98 374.35 478.04 375.56 476.18C376.76 474.32 377.96 472.54 379.17 470.86C380.37 469.18 381.57 467.60 382.78 466.14C383.98 464.69 385.18 463.35 386.39 462.19C387.59 461.02 388.79 460.01 390.00 459.21C391.20 458.40 392.40 457.80 393.61 457.44C394.81 457.08 396.01 456.96 397.22 457.12C398.42 457.28 399.62 457.71 400.83 458.39C402.03 459.08 403.23 460.01 404.44 461.15C405.64 462.30 406.84 463.67 408.05 465.22C409.25 466.77 410.45 468.52 411.66 470.42C412.86 472.32 414.06 474.39 415.27 476.59C416.47 478.79 417.67 481.13 418.88 483.59C420.08 486.05 421.28 488.62 422.49 491.29C423.69 493.97 424.89 496.73 426.10 499.57C427.30 502.42 428.50 505.33 429.70 508.30C430.91 511.27 432.11 514.29 433.31 517.34C434.52 520.39 435.72 523.47 436.92 526.56C438.13 529.64 439.33 532.74 440.53 535.81C441.74 538.89 442.94 541.95 444.14 544.98C445.35 548.01 446.55 551.01 447.75 553.95C448.96 556.90 450.16 559.79 451.36 562.62C452.57 565.44 453.77 568.20 454.97 570.87C456.18 573.54 457.38 576.12 458.58 578.63C459.79 581.13 460.99 583.55 462.19 585.90C463.40 588.24 464.60 590.51 465.80 592.71C467.01 594.91 468.21 597.04 469.41 599.10C470.62 601.16 471.82 603.15 473.02 605.09C474.23 607.02 475.43 608.90 476.63 610.71C477.84 612.53 479.04 614.30 480.24 616.01C481.45 617.73 482.65 619.39 483.85 621.02C485.05 622.64 486.26 624.22 487.46 625.77C488.66 627.31 489.87 628.82 491.07 630.30C492.27 631.77 493.48 633.22 494.68 634.63C495.88 636.05 497.09 637.43 498.29 638.78C499.49 640.13 500.70 641.45 501.90 642.73C503.10 644.02 504.31 645.27 505.51 646.49C506.71 647.71 507.92 648.89 509.12 650.04C510.32 651.19 511.53 652.31 512.73 653.39C513.93 654.47 515.14 655.52 516.34 656.53C517.54 657.54 518.75 658.51 519.95 659.45C521.15 660.39 522.36 661.30 523.56 662.17C524.76 663.04 525.97 663.87 527.17 664.68C528.37 665.48 529.58 666.26 530.78 667.00C531.98 667.75 533.19 668.47 534.39 669.16C535.59 669.85 536.80 670.52 538.00 671.16C539.20 671.80 540.41 672.42 541.61 673.02C542.81 673.62 544.01 674.20 545.22 674.76C546.42 675.32 547.62 675.87 548.83 676.39C550.03 676.92 551.23 677.44 552.44 677.94C553.64 678.44 554.84 678.92 556.05 679.40C557.25 679.88 558.45 680.34 559.66 680.80C560.86 681.26 562.06 681.70 563.27 682.14C564.47 682.58 565.67 683.00 566.88 683.42C568.08 683.84 569.28 684.25 570.49 684.64C571.69 685.04 572.89 685.43 574.10 685.81C575.30 686.19 576.50 686.56 577.71 686.92C578.91 687.28 580.11 687.63 581.32 687.97C582.52 688.31 583.72 688.64 584.93 688.97C586.13 689.29 587.33 689.61 588.54 689.91C589.74 690.22 590.94 690.51 592.15 690.80C593.35 691.09 594.55 691.37 595.76 691.64C596.96 691.91 598.16 692.18 599.37 692.43C600.57 692.68 601.77 692.93 602.97 693.17C604.18 693.40 605.38 693.63 606.58 693.86C607.79 694.08 608.99 694.29 610.19 694.50C611.40 694.70 612.60 694.90 613.80 695.09C615.01 695.28 616.21 695.47 617.41 695.65C618.62 695.83 619.82 696.00 621.02 696.16C622.23 696.33 623.43 696.49 624.63 696.65C625.84 696.80 627.04 696.95 628.24 697.10C629.45 697.25 630.65 697.39 631.85 697.52C633.06 697.66 634.26 697.79 635.46 697.92C636.67 698.05 637.87 698.18 639.07 698.30C640.28 698.43 641.48 698.55 642.68 698.67C643.89 698.79 645.09 698.90 646.29 699.02C647.50 699.13 648.70 699.24 649.90 699.36C651.11 699.47 652.31 699.58 653.51 699.69C654.72 699.80 655.92 699.91 657.12 700.02C658.32 700.13 659.53 700.24 660.73 700.35C661.93 700.46 663.14 700.57 664.34 700.68C665.54 700.80 666.75 700.91 667.95 701.02C669.15 701.14 670.36 701.26 671.56 701.38C672.76 701.50 673.97 701.62 675.17 701.74C676.37 701.87 677.58 702.00 678.78 702.13C679.98 702.26 681.19 702.39 682.39 702.53C683.59 702.67 684.80 702.82 686.00 702.96" fill="none" stroke="#000000" stroke-width="2.90"/>
<path d="M108.43 707.19C109.64 707.04 110.84 706.90 112.04 706.77C113.25 706.63 114.45 706.50 115.65 706.37C116.86 706.24 118.06 706.11 119.26 705.99C120.47 705.86 121.67 705.74 122.87 705.61C124.08 705.49 125.28 705.37 126.48 705.25C127.69 705.13 128.89 705.02 130.09 704.90C131.30 704.78 132.50 704.66 133.70 704.54C134.91 704.43 136.11 704.31 137.31 704.19C138.52 704.07 139.72 703.95 140.92 703.82C142.12 703.70 143.33 703.58 144.53 703.45C145.73 703.33 146.94 703.20 148.14 703.07C149.34 702.93 150.55 702.80 151.75 702.66C152.95 702.52 154.16 702.38 155.36 702.24C156.56 702.09 157.77 701.94 158.97 701.79C160.17 701.63 161.38 701.47 162.58 701.31C163.78 701.14 164.99 700.97 166.19 700.80C167.39 700.62 168.60 700.44 169.80 700.25C171.00 700.06 172.21 699.87 173.41 699.66C174.61 699.46 175.82 699.25 177.02 699.03C178.22 698.81 179.43 698.59 180.63 698.35C181.83 698.12 183.04 697.87 184.24 697.62C185.44 697.37 186.65 697.11 187.85 696.84C189.05 696.57 190.26 696.28 191.46 695.99C192.66 695.70 193.87 695.40 195.07 695.08C196.27 694.76 197.48 694.43 198.68 694.09C199.88 693.75 201.08 693.39 202.29 693.02C203.49 692.64 204.69 692.26 205.90 691.85C207.10 691.45 208.30 691.03 209.51 690.59C210.71 690.15 211.91 689.69 213.12 689.21C214.32 688.73 215.52 688.24 216.73 687.72C217.93 687.20 219.13 686.66 220.34 686.10C221.54 685.54 222.74 684.96 223.95 684.35C225.15 683.75 226.35 683.12 227.56 682.46C228.76 681.81 229.96 681.12 231.17 680.42C232.37 679.71 233.57 678.98 234.78 678.22C235.98 677.46 237.18 676.67 238.39 675.85C239.59 675.03 240.79 674.19 242.00 673.31C243.20 672.43 244.40 671.52 245.61 670.58C246.81 669.64 248.01 668.67 249.22 667.67C250.42 666.67 251.62 665.63 252.83 664.56C254.03 663.49 255.23 662.39 256.43 661.25C257.64 660.11 258.84 658.94 260.04 657.73C261.25 656.53 262.45 655.29 263.65 654.01C264.86 652.73 266.06 651.42 267.26 650.07C268.47 648.72 269.67 647.34 270.87 645.92C272.08 644.49 273.28 643.04 274.48 641.54C275.69 640.04 276.89 638.51 278.09 636.93C279.30 635.36 280.50 633.75 281.70 632.10C282.91 630.45 284.11 628.76 285.31 627.03C286.52 625.31 287.72 623.55 288.92 621.76C290.13 619.97 291.33 618.16 292.53 616.32C293.74 614.47 294.94 612.61 296.14 610.72C297.35 608.84 298.55 606.94 299.75 605.02C300.96 603.10 302.16 601.16 303.36 599.22C304.57 597.28 305.77 595.32 306.97 593.36C308.18 591.39 309.38 589.41 310.58 587.42C311.79 585.43 312.99 583.42 314.19 581.40C315.39 579.38 316.60 577.34 317.80 575.28C319.00 573.23 320.21 571.15 321.41 569.06C322.61 566.96 323.82 564.85 325.02 562.72C326.22 560.58 327.43 558.42 328.63 556.26C329.83 554.10 331.04 551.93 332.24 549.76C333.44 547.60 334.65 545.44 335.85 543.29C337.05 541.15 338.26 539.03 339.46 536.94C340.66 534.85 341.87 532.78 343.07 530.73C344.27 528.68 345.48 526.64 346.68 524.60C347.88 522.55 349.09 520.50 350.29 518.43C351.49 516.35 352.70 514.25 353.90 512.11C355.10 509.97 356.31 507.80 357.51 505.60C358.71 503.41 359.92 501.20 361.12 499.00C362.32 496.80 363.53 494.60 364.73 492.44C365.93 490.28 367.14 488.15 368.34 486.07C369.54 483.99 370.74 481.97 371.95 480.02C373.15 478.07 374.35 476.19 375.56 474.40C376.76 472.61 377.96 470.91 379.17 469.33C380.37 467.74 381.57 466.26 382.78 464.90C383.98 463.55 385.18 462.33 386.39 461.26C387.59 460.20 388.79 459.30 390.00 458.60C391.20 457.89 392.40 457.38 393.61 457.10C394.81 456.82 396.01 456.77 397.22 456.98C398.42 457.20 399.62 457.67 400.83 458.37C402.03 459.08 403.23 460.02 404.44 461.17C405.64 462.33 406.84 463.69 408.05 465.24C409.25 466.79 410.45 468.53 411.66 470.42C412.86 472.32 414.06 474.38 415.27 476.58C416.47 478.78 417.67 481.12 418.88 483.58C420.08 486.04 421.28 488.62 422.49 491.29C423.69 493.96 424.89 496.73 426.10 499.58C427.30 502.42 428.50 505.34 429.70 508.30C430.91 511.27 432.11 514.29 433.31 517.34C434.52 520.39 435.72 523.47 436.92 526.56C438.13 529.64 439.33 532.74 440.53 535.81C441.74 538.89 442.94 541.95 444.14 544.98C445.35 548.01 446.55 551.01 447.75 553.95C448.96 556.90 450.16 559.79 451.36 562.62C452.57 565.44 453.77 568.20 454.97 570.87C456.18 573.54 457.38 576.12 458.58 578.63C459.79 581.13 460.99 583.55 462.19 585.90C463.40 588.24 464.60 590.51 465.80 592.71C467.01 594.91 468.21 597.04 469.41 599.10C470.62 601.16 471.82 603.15 473.02 605.09C474.23 607.02 475.43 608.90 476.63 610.71C477.84 612.53 479.04 614.30 480.24 616.01C481.45 617.73 482.65 619.39 483.85 621.02C485.05 622.64 486.26 624.22 487.46 625.77C488.66 627.31 489.87 628.82 491.07 630.30C492.27 631.77 493.48 633.22 494.68 634.63C495.88 636.05 497.09 637.43 498.29 638.78C499.49 640.13 500.70 641.45 501.90 642.73C503.10 644.02 504.31 645.27 505.51 646.49C506.71 647.71 507.92 648.89 509.12 650.04C510.32 651.19 511.53 652.31 512.73 653.39C513.93 654.47 515.14 655.52 516.34 656.53C517.54 657.54 518.75 658.51 519.95 659.45C521.15 660.39 522.36 661.30 523.56 662.17C524.76 663.04 525.97 663.87 527.17 664.68C528.37 665.48 529.58 666.26 530.78 667.00C531.98 667.75 533.19 668.47 534.39 669.16C535.59 669.85 536.80 670.52 538.00 671.16C539.20 671.80 540.41 672.42 541.61 673.02C542.81 673.62 544.01 674.20 545.22 674.76C546.42 675.32 547.62 675.87 548.83 676.39C550.03 676.92 551.23 677.44 552.44 677.94C553.64 678.44 554.84 678.92 556.05 679.40C557.25 679.88 558.45 680.34 559.66 680.80C560.86 681.26 562.06 681.70 563.27 682.14C564.47 682.58 565.67 683.00 566.88 683.42C568.08 683.84 569.28 684.25 570.49 684.64C571.69 685.04 572.89 685.43 574.10 685.81C575.30 686.19 576.50 686.56 577.71 686.92C578.91 687.28 580.11 687.63 581.32 687.97C582.52 688.31 583.72 688.64 584.93 688.97C586.13 689.29 587.33 689.61 588.54 689.91C589.74 690.22 590.94 690.51 592.15 690.80C593.35 691.09 594.55 691.37 595.76 691.64C596.96 691.91 598.16 692.18 599.37 692.43C600.57 692.68 601.77 692.93 602.97 693.17C604.18 693.40 605.38 693.63 606.58 693.86C607.79 694.08 608.99 694.29 610.19 694.50C611.40 694.70 612.60 694.90 613.80 695.09C615.01 695.28 616.21 695.47 617.41 695.65C618.62 695.83 619.82 696.00 621.02 696.16C622.23 696.33 623.43 696.49 624.63 696.65C625.84 696.80 627.04 696.95 628.24 697.10C629.45 697.25 630.65 697.39 631.85 697.52C633.06 697.66 634.26 697.79 635.46 697.92C636.67 698.05 637.87 698.18 639.07 698.30C640.28 698.43 641.48 698.55 642.68 698.67C643.89 698.79 645.09 698.90 646.29 699.02C647.50 699.13 648.70 699.24 649.90 699.36C651.11 699.47 652.31 699.58 653.51 699.69C654.72 699.80 655.92 699.91 657.12 700.02C658.32 700.13 659.53 700.24 660.73 700.35C661.93 700.46 663.14 700.57 664.34 700.68C665.54 700.80 666.75 700.91 667.95 701.02C669.15 701.14 670.36 701.26 671.56 701.38C672.76 701.50 673.97 701.62 675.17 701.74C676.37 701.87 677.58 702.00 678.78 702.13C679.98 702.26 681.19 702.39 682.39 702.53C683.59 702.67 684.80 702.82 686.00 702.96" fill="none" stroke="#000000" stroke-width="2.90" stroke-dasharray="10.3 10.15" stroke-dashoffset="0.0"/>
<path d="M108.43 701.74C109.64 701.59 110.84 701.43 112.04 701.26C113.25 701.10 114.45 700.92 115.65 700.73C116.86 700.54 118.06 700.34 119.26 700.13C120.47 699.92 121.67 699.70 122.87 699.47C124.08 699.24 125.28 698.99 126.48 698.74C127.69 698.49 128.89 698.23 130.09 697.95C131.30 697.68 132.50 697.39 133.70 697.10C134.91 696.80 136.11 696.50 137.31 696.18C138.52 695.86 139.72 695.54 140.92 695.20C142.12 694.86 143.33 694.51 144.53 694.15C145.73 693.80 146.94 693.43 148.14 693.04C149.34 692.66 150.55 692.27 151.75 691.87C152.95 691.47 154.16 691.06 155.36 690.63C156.56 690.21 157.77 689.77 158.97 689.33C160.17 688.88 161.38 688.43 162.58 687.96C163.78 687.50 164.99 687.02 166.19 686.53C167.39 686.04 168.60 685.54 169.80 685.03C171.00 684.52 172.21 684.00 173.41 683.47C174.61 682.94 175.82 682.40 177.02 681.84C178.22 681.29 179.43 680.73 180.63 680.15C181.83 679.58 183.04 678.99 184.24 678.39C185.44 677.80 186.65 677.19 187.85 676.57C189.05 675.95 190.26 675.32 191.46 674.68C192.66 674.04 193.87 673.39 195.07 672.73C196.27 672.08 197.48 671.41 198.68 670.73C199.88 670.06 201.08 669.38 202.29 668.69C203.49 668.00 204.69 667.30 205.90 666.60C207.10 665.89 208.30 665.18 209.51 664.47C210.71 663.76 211.91 663.04 213.12 662.31C214.32 661.59 215.52 660.86 216.73 660.13C217.93 659.40 219.13 658.67 220.34 657.93C221.54 657.20 222.74 656.46 223.95 655.72C225.15 654.98 226.35 654.24 227.56 653.50C228.76 652.76 229.96 652.02 231.17 651.28C232.37 650.54 233.57 649.80 234.78 649.06C235.98 648.33 237.18 647.59 238.39 646.86C239.59 646.13 240.79 645.40 242.00 644.67C243.20 643.94 244.40 643.22 245.61 642.50C246.81 641.78 248.01 641.07 249.22 640.35C250.42 639.64 251.62 638.93 252.83 638.21C254.03 637.49 255.23 636.78 256.43 636.05C257.64 635.32 258.84 634.59 260.04 633.85C261.25 633.10 262.45 632.35 263.65 631.58C264.86 630.81 266.06 630.03 267.26 629.23C268.47 628.43 269.67 627.61 270.87 626.77C272.08 625.93 273.28 625.07 274.48 624.19C275.69 623.30 276.89 622.39 278.09 621.45C279.30 620.51 280.50 619.54 281.70 618.54C282.91 617.54 284.11 616.51 285.31 615.45C286.52 614.39 287.72 613.31 288.92 612.20C290.13 611.10 291.33 609.97 292.53 608.83C293.74 607.68 294.94 606.52 296.14 605.35C297.35 604.18 298.55 603.00 299.75 601.82C300.96 600.63 302.16 599.44 303.36 598.25C304.57 597.06 305.77 595.87 306.97 594.67C308.18 593.46 309.38 592.25 310.58 591.02C311.79 589.79 312.99 588.54 314.19 587.26C315.39 585.98 316.60 584.68 317.80 583.34C319.00 582.00 320.21 580.62 321.41 579.20C322.61 577.77 323.82 576.31 325.02 574.78C326.22 573.26 327.43 571.69 328.63 570.09C329.83 568.50 331.04 566.88 332.24 565.26C333.44 563.64 334.65 562.02 335.85 560.44C337.05 558.85 338.26 557.30 339.46 555.80C340.66 554.30 341.87 552.86 343.07 551.41C344.27 549.97 345.48 548.52 346.68 547.03C347.88 545.54 349.09 544.00 350.29 542.36C351.49 540.72 352.70 538.98 353.90 537.09C355.10 535.20 356.31 533.17 357.51 531.08C358.71 528.99 359.92 526.83 361.12 524.68C362.32 522.53 363.53 520.39 364.73 518.33C365.93 516.28 367.14 514.30 368.34 512.49C369.54 510.67 370.74 509.01 371.95 507.48C373.15 505.94 374.35 504.54 375.56 503.26C376.76 501.97 377.96 500.79 379.17 499.71C380.37 498.63 381.57 497.63 382.78 496.71C383.98 495.79 385.18 494.95 386.39 494.20C387.59 493.46 388.79 492.81 390.00 492.28C391.20 491.76 392.40 491.35 393.61 491.10C394.81 490.84 396.01 490.73 397.22 490.79C398.42 490.85 399.62 491.07 400.83 491.47C402.03 491.86 403.23 492.41 404.44 493.13C405.64 493.85 406.84 494.72 408.05 495.76C409.25 496.79 410.45 497.98 411.66 499.33C412.86 500.67 414.06 502.17 415.27 503.80C416.47 505.43 417.67 507.20 418.88 509.08C420.08 510.96 421.28 512.96 422.49 515.07C423.69 517.17 424.89 519.37 426.10 521.65C427.30 523.93 428.50 526.30 429.70 528.74C430.91 531.18 432.11 533.68 433.31 536.25C434.52 538.82 435.72 541.46 436.92 544.13C438.13 546.81 439.33 549.54 440.53 552.31C441.74 555.08 442.94 557.88 444.14 560.68C445.35 563.49 446.55 566.28 447.75 569.04C448.96 571.80 450.16 574.52 451.36 577.16C452.57 579.80 453.77 582.36 454.97 584.80C456.18 587.24 457.38 589.57 458.58 591.80C459.79 594.03 460.99 596.17 462.19 598.23C463.40 600.29 464.60 602.28 465.80 604.21C467.01 606.14 468.21 608.02 469.41 609.86C470.62 611.70 471.82 613.50 473.02 615.27C474.23 617.04 475.43 618.77 476.63 620.47C477.84 622.16 479.04 623.82 480.24 625.43C481.45 627.05 482.65 628.63 483.85 630.17C485.05 631.71 486.26 633.21 487.46 634.68C488.66 636.14 489.87 637.56 491.07 638.94C492.27 640.32 493.48 641.66 494.68 642.96C495.88 644.26 497.09 645.52 498.29 646.75C499.49 647.97 500.70 649.15 501.90 650.30C503.10 651.44 504.31 652.55 505.51 653.62C506.71 654.70 507.92 655.73 509.12 656.73C510.32 657.73 511.53 658.69 512.73 659.62C513.93 660.55 515.14 661.45 516.34 662.31C517.54 663.17 518.75 664.00 519.95 664.79C521.15 665.59 522.36 666.35 523.56 667.08C524.76 667.81 525.97 668.52 527.17 669.19C528.37 669.87 529.58 670.51 530.78 671.14C531.98 671.76 533.19 672.36 534.39 672.94C535.59 673.52 536.80 674.07 538.00 674.61C539.20 675.15 540.41 675.67 541.61 676.17C542.81 676.67 544.01 677.16 545.22 677.63C546.42 678.10 547.62 678.56 548.83 679.01C550.03 679.46 551.23 679.90 552.44 680.33C553.64 680.76 554.84 681.18 556.05 681.60C557.25 682.01 558.45 682.43 559.66 682.83C560.86 683.24 562.06 683.64 563.27 684.03C564.47 684.43 565.67 684.82 566.88 685.20C568.08 685.58 569.28 685.96 570.49 686.33C571.69 686.70 572.89 687.06 574.10 687.42C575.30 687.78 576.50 688.13 577.71 688.47C578.91 688.82 580.11 689.15 581.32 689.48C582.52 689.81 583.72 690.14 584.93 690.45C586.13 690.77 587.33 691.08 588.54 691.38C589.74 691.68 590.94 691.97 592.15 692.26C593.35 692.54 594.55 692.82 595.76 693.09C596.96 693.36 598.16 693.62 599.37 693.87C600.57 694.12 601.77 694.36 602.97 694.60C604.18 694.84 605.38 695.06 606.58 695.28C607.79 695.50 608.99 695.71 610.19 695.91C611.40 696.11 612.60 696.30 613.80 696.48C615.01 696.67 616.21 696.85 617.41 697.02C618.62 697.19 619.82 697.35 621.02 697.51C622.23 697.66 623.43 697.82 624.63 697.96C625.84 698.11 627.04 698.25 628.24 698.38C629.45 698.52 630.65 698.65 631.85 698.77C633.06 698.90 634.26 699.02 635.46 699.14C636.67 699.26 637.87 699.38 639.07 699.49C640.28 699.60 641.48 699.71 642.68 699.82C643.89 699.93 645.09 700.03 646.29 700.14C647.50 700.24 648.70 700.35 649.90 700.45C651.11 700.55 652.31 700.65 653.51 700.76C654.72 700.86 655.92 700.96 657.12 701.06C658.32 701.17 659.53 701.27 660.73 701.37C661.93 701.48 663.14 701.58 664.34 701.69C665.54 701.80 666.75 701.91 667.95 702.03C669.15 702.14 670.36 702.25 671.56 702.37C672.76 702.49 673.97 702.62 675.17 702.74C676.37 702.87 677.58 703.00 678.78 703.14C679.98 703.27 681.19 703.41 682.39 703.56C683.59 703.71 684.80 703.86 686.00 704.02" fill="none" stroke="#ff0000" stroke-width="2.90"/>
<path d="M108.43 699.46C109.64 699.27 110.84 699.07 112.04 698.86C113.25 698.66 114.45 698.45 115.65 698.23C116.86 698.01 118.06 697.78 119.26 697.54C120.47 697.31 121.67 697.06 122.87 696.81C124.08 696.56 125.28 696.30 126.48 696.03C127.69 695.76 128.89 695.48 130.09 695.19C131.30 694.90 132.50 694.60 133.70 694.29C134.91 693.99 136.11 693.67 137.31 693.34C138.52 693.01 139.72 692.67 140.92 692.32C142.12 691.97 143.33 691.61 144.53 691.24C145.73 690.87 146.94 690.49 148.14 690.09C149.34 689.70 150.55 689.29 151.75 688.87C152.95 688.45 154.16 688.02 155.36 687.58C156.56 687.14 157.77 686.68 158.97 686.21C160.17 685.74 161.38 685.26 162.58 684.77C163.78 684.27 164.99 683.76 166.19 683.24C167.39 682.72 168.60 682.18 169.80 681.63C171.00 681.08 172.21 680.51 173.41 679.93C174.61 679.35 175.82 678.76 177.02 678.15C178.22 677.54 179.43 676.91 180.63 676.27C181.83 675.63 183.04 674.98 184.24 674.30C185.44 673.63 186.65 672.94 187.85 672.24C189.05 671.53 190.26 670.81 191.46 670.07C192.66 669.34 193.87 668.59 195.07 667.82C196.27 667.06 197.48 666.28 198.68 665.49C199.88 664.70 201.08 663.89 202.29 663.08C203.49 662.26 204.69 661.44 205.90 660.60C207.10 659.77 208.30 658.93 209.51 658.07C210.71 657.22 211.91 656.36 213.12 655.50C214.32 654.63 215.52 653.75 216.73 652.88C217.93 652.00 219.13 651.11 220.34 650.22C221.54 649.33 222.74 648.44 223.95 647.55C225.15 646.65 226.35 645.75 227.56 644.85C228.76 643.96 229.96 643.05 231.17 642.15C232.37 641.25 233.57 640.35 234.78 639.45C235.98 638.56 237.18 637.66 238.39 636.76C239.59 635.87 240.79 634.98 242.00 634.09C243.20 633.20 244.40 632.32 245.61 631.44C246.81 630.56 248.01 629.69 249.22 628.82C250.42 627.95 251.62 627.08 252.83 626.22C254.03 625.36 255.23 624.49 256.43 623.63C257.64 622.77 258.84 621.91 260.04 621.04C261.25 620.18 262.45 619.31 263.65 618.44C264.86 617.58 266.06 616.70 267.26 615.82C268.47 614.95 269.67 614.06 270.87 613.17C272.08 612.28 273.28 611.39 274.48 610.48C275.69 609.58 276.89 608.66 278.09 607.74C279.30 606.81 280.50 605.88 281.70 604.93C282.91 603.98 284.11 603.02 285.31 602.05C286.52 601.08 287.72 600.10 288.92 599.10C290.13 598.11 291.33 597.10 292.53 596.08C293.74 595.06 294.94 594.03 296.14 592.99C297.35 591.94 298.55 590.89 299.75 589.82C300.96 588.75 302.16 587.67 303.36 586.58C304.57 585.49 305.77 584.39 306.97 583.27C308.18 582.16 309.38 581.03 310.58 579.89C311.79 578.76 312.99 577.61 314.19 576.45C315.39 575.29 316.60 574.12 317.80 572.94C319.00 571.76 320.21 570.57 321.41 569.37C322.61 568.17 323.82 566.96 325.02 565.75C326.22 564.53 327.43 563.30 328.63 562.06C329.83 560.81 331.04 559.55 332.24 558.26C333.44 556.98 334.65 555.67 335.85 554.33C337.05 552.99 338.26 551.62 339.46 550.21C340.66 548.81 341.87 547.36 343.07 545.90C344.27 544.43 345.48 542.95 346.68 541.45C347.88 539.96 349.09 538.47 350.29 536.98C351.49 535.49 352.70 534.01 353.90 532.56C355.10 531.10 356.31 529.68 357.51 528.27C358.71 526.87 359.92 525.50 361.12 524.15C362.32 522.81 363.53 521.50 364.73 520.22C365.93 518.94 367.14 517.70 368.34 516.50C369.54 515.29 370.74 514.12 371.95 513.00C373.15 511.87 374.35 510.79 375.56 509.75C376.76 508.72 377.96 507.72 379.17 506.78C380.37 505.84 381.57 504.94 382.78 504.10C383.98 503.26 385.18 502.47 386.39 501.76C387.59 501.06 388.79 500.44 390.00 499.94C391.20 499.44 392.40 499.06 393.61 498.82C394.81 498.58 396.01 498.49 397.22 498.58C398.42 498.67 399.62 498.93 400.83 499.36C402.03 499.78 403.23 500.36 404.44 501.08C405.64 501.80 406.84 502.65 408.05 503.63C409.25 504.61 410.45 505.71 411.66 506.91C412.86 508.11 414.06 509.42 415.27 510.83C416.47 512.25 417.67 513.78 418.88 515.43C420.08 517.08 421.28 518.86 422.49 520.76C423.69 522.66 424.89 524.69 426.10 526.86C427.30 529.02 428.50 531.33 429.70 533.72C430.91 536.11 432.11 538.59 433.31 541.12C434.52 543.65 435.72 546.22 436.92 548.79C438.13 551.37 439.33 553.94 440.53 556.47C441.74 558.99 442.94 561.48 444.14 563.94C445.35 566.40 446.55 568.83 447.75 571.25C448.96 573.67 450.16 576.08 451.36 578.49C452.57 580.91 453.77 583.32 454.97 585.75C456.18 588.19 457.38 590.64 458.58 593.07C459.79 595.51 460.99 597.94 462.19 600.33C463.40 602.72 464.60 605.07 465.80 607.35C467.01 609.64 468.21 611.86 469.41 613.99C470.62 616.12 471.82 618.16 473.02 620.11C474.23 622.07 475.43 623.94 476.63 625.74C477.84 627.54 479.04 629.26 480.24 630.92C481.45 632.57 482.65 634.17 483.85 635.70C485.05 637.23 486.26 638.70 487.46 640.13C488.66 641.55 489.87 642.93 491.07 644.26C492.27 645.59 493.48 646.88 494.68 648.13C495.88 649.38 497.09 650.58 498.29 651.75C499.49 652.92 500.70 654.06 501.90 655.15C503.10 656.25 504.31 657.31 505.51 658.33C506.71 659.36 507.92 660.35 509.12 661.31C510.32 662.27 511.53 663.20 512.73 664.10C513.93 665.00 515.14 665.87 516.34 666.71C517.54 667.56 518.75 668.37 519.95 669.16C521.15 669.95 522.36 670.72 523.56 671.46C524.76 672.20 525.97 672.91 527.17 673.61C528.37 674.30 529.58 674.98 530.78 675.63C531.98 676.28 533.19 676.91 534.39 677.52C535.59 678.13 536.80 678.72 538.00 679.29C539.20 679.86 540.41 680.42 541.61 680.96C542.81 681.49 544.01 682.01 545.22 682.52C546.42 683.02 547.62 683.51 548.83 683.99C550.03 684.46 551.23 684.93 552.44 685.37C553.64 685.82 554.84 686.26 556.05 686.68C557.25 687.11 558.45 687.52 559.66 687.93C560.86 688.33 562.06 688.72 563.27 689.10C564.47 689.48 565.67 689.86 566.88 690.22C568.08 690.58 569.28 690.93 570.49 691.28C571.69 691.62 572.89 691.95 574.10 692.28C575.30 692.60 576.50 692.92 577.71 693.23C578.91 693.53 580.11 693.83 581.32 694.12C582.52 694.42 583.72 694.70 584.93 694.98C586.13 695.25 587.33 695.52 588.54 695.79C589.74 696.05 590.94 696.30 592.15 696.55C593.35 696.80 594.55 697.05 595.76 697.28C596.96 697.52 598.16 697.75 599.37 697.98C600.57 698.21 601.77 698.43 602.97 698.65C604.18 698.86 605.38 699.07 606.58 699.28C607.79 699.49 608.99 699.69 610.19 699.89C611.40 700.09 612.60 700.29 613.80 700.48C615.01 700.67 616.21 700.85 617.41 701.04C618.62 701.22 619.82 701.40 621.02 701.58C622.23 701.75 623.43 701.92 624.63 702.09C625.84 702.26 627.04 702.42 628.24 702.59C629.45 702.75 630.65 702.90 631.85 703.06C633.06 703.21 634.26 703.37 635.46 703.51C636.67 703.66 637.87 703.81 639.07 703.95C640.28 704.09 641.48 704.23 642.68 704.37C643.89 704.50 645.09 704.63 646.29 704.77C647.50 704.90 648.70 705.02 649.90 705.15C651.11 705.27 652.31 705.40 653.51 705.52C654.72 705.64 655.92 705.76 657.12 705.87C658.32 705.99 659.53 706.10 660.73 706.21C661.93 706.32 663.14 706.43 664.34 706.54C665.54 706.64 666.75 706.75 667.95 706.85C669.15 706.95 670.36 707.06 671.56 707.15C672.76 707.25 673.97 707.35 675.17 707.45C676.37 707.54 677.58 707.64 678.78 707.73C679.98 707.82 681.19 707.91 682.39 708.00C683.59 708.10 684.80 708.18 686.00 708.27" fill="none" stroke="#ff0000" stroke-width="2.90" stroke-dasharray="10.3 10.15" stroke-dashoffset="20.6"/>
<path d="M108.43 689.19C109.64 688.97 110.84 688.74 112.04 688.52C113.25 688.30 114.45 688.08 115.65 687.86C116.86 687.63 118.06 687.41 119.26 687.18C120.47 686.96 121.67 686.73 122.87 686.50C124.08 686.27 125.28 686.04 126.48 685.81C127.69 685.58 128.89 685.35 130.09 685.11C131.30 684.87 132.50 684.63 133.70 684.39C134.91 684.15 136.11 683.91 137.31 683.66C138.52 683.42 139.72 683.17 140.92 682.92C142.12 682.66 143.33 682.41 144.53 682.15C145.73 681.89 146.94 681.63 148.14 681.36C149.34 681.10 150.55 680.83 151.75 680.56C152.95 680.28 154.16 680.00 155.36 679.72C156.56 679.44 157.77 679.16 158.97 678.86C160.17 678.57 161.38 678.28 162.58 677.98C163.78 677.68 164.99 677.37 166.19 677.06C167.39 676.75 168.60 676.44 169.80 676.12C171.00 675.80 172.21 675.47 173.41 675.14C174.61 674.81 175.82 674.47 177.02 674.13C178.22 673.78 179.43 673.43 180.63 673.08C181.83 672.72 183.04 672.36 184.24 671.99C185.44 671.62 186.65 671.24 187.85 670.86C189.05 670.48 190.26 670.09 191.46 669.69C192.66 669.29 193.87 668.89 195.07 668.47C196.27 668.06 197.48 667.64 198.68 667.21C199.88 666.78 201.08 666.34 202.29 665.89C203.49 665.45 204.69 664.99 205.90 664.52C207.10 664.06 208.30 663.58 209.51 663.10C210.71 662.61 211.91 662.12 213.12 661.61C214.32 661.10 215.52 660.58 216.73 660.06C217.93 659.53 219.13 658.99 220.34 658.44C221.54 657.88 222.74 657.32 223.95 656.75C225.15 656.17 226.35 655.58 227.56 654.98C228.76 654.38 229.96 653.77 231.17 653.14C232.37 652.51 233.57 651.87 234.78 651.22C235.98 650.57 237.18 649.90 238.39 649.22C239.59 648.53 240.79 647.84 242.00 647.13C243.20 646.41 244.40 645.69 245.61 644.95C246.81 644.20 248.01 643.45 249.22 642.67C250.42 641.90 251.62 641.11 252.83 640.31C254.03 639.51 255.23 638.69 256.43 637.86C257.64 637.03 258.84 636.18 260.04 635.32C261.25 634.46 262.45 633.59 263.65 632.70C264.86 631.81 266.06 630.90 267.26 629.99C268.47 629.07 269.67 628.14 270.87 627.19C272.08 626.25 273.28 625.29 274.48 624.32C275.69 623.35 276.89 622.36 278.09 621.36C279.30 620.36 280.50 619.35 281.70 618.33C282.91 617.31 284.11 616.27 285.31 615.22C286.52 614.17 287.72 613.10 288.92 612.02C290.13 610.94 291.33 609.85 292.53 608.74C293.74 607.63 294.94 606.50 296.14 605.36C297.35 604.22 298.55 603.06 299.75 601.89C300.96 600.71 302.16 599.52 303.36 598.31C304.57 597.10 305.77 595.87 306.97 594.63C308.18 593.39 309.38 592.14 310.58 590.88C311.79 589.62 312.99 588.36 314.19 587.10C315.39 585.83 316.60 584.57 317.80 583.32C319.00 582.06 320.21 580.81 321.41 579.58C322.61 578.34 323.82 577.12 325.02 575.91C326.22 574.71 327.43 573.52 328.63 572.34C329.83 571.16 331.04 570.00 332.24 568.84C333.44 567.68 334.65 566.52 335.85 565.36C337.05 564.20 338.26 563.03 339.46 561.86C340.66 560.68 341.87 559.50 343.07 558.33C344.27 557.16 345.48 556.00 346.68 554.88C347.88 553.75 349.09 552.66 350.29 551.62C351.49 550.58 352.70 549.59 353.90 548.67C355.10 547.76 356.31 546.91 357.51 546.12C358.71 545.34 359.92 544.61 361.12 543.93C362.32 543.25 363.53 542.62 364.73 542.02C365.93 541.43 367.14 540.87 368.34 540.35C369.54 539.82 370.74 539.31 371.95 538.84C373.15 538.37 374.35 537.93 375.56 537.52C376.76 537.10 377.96 536.72 379.17 536.38C380.37 536.03 381.57 535.72 382.78 535.44C383.98 535.16 385.18 534.92 386.39 534.71C387.59 534.51 388.79 534.34 390.00 534.20C391.20 534.07 392.40 533.98 393.61 533.93C394.81 533.87 396.01 533.86 397.22 533.89C398.42 533.92 399.62 533.99 400.83 534.10C402.03 534.21 403.23 534.37 404.44 534.57C405.64 534.77 406.84 535.01 408.05 535.30C409.25 535.60 410.45 535.93 411.66 536.32C412.86 536.70 414.06 537.14 415.27 537.63C416.47 538.12 417.67 538.66 418.88 539.27C420.08 539.89 421.28 540.56 422.49 541.31C423.69 542.06 424.89 542.88 426.10 543.79C427.30 544.69 428.50 545.68 429.70 546.75C430.91 547.81 432.11 548.97 433.31 550.20C434.52 551.44 435.72 552.76 436.92 554.17C438.13 555.59 439.33 557.08 440.53 558.67C441.74 560.26 442.94 561.94 444.14 563.68C445.35 565.43 446.55 567.24 447.75 569.10C448.96 570.96 450.16 572.87 451.36 574.80C452.57 576.74 453.77 578.70 454.97 580.67C456.18 582.64 457.38 584.61 458.58 586.58C459.79 588.55 460.99 590.52 462.19 592.48C463.40 594.44 464.60 596.39 465.80 598.31C467.01 600.23 468.21 602.14 469.41 604.01C470.62 605.89 471.82 607.73 473.02 609.54C474.23 611.35 475.43 613.13 476.63 614.88C477.84 616.63 479.04 618.34 480.24 620.02C481.45 621.70 482.65 623.35 483.85 624.95C485.05 626.56 486.26 628.14 487.46 629.67C488.66 631.21 489.87 632.71 491.07 634.17C492.27 635.63 493.48 637.05 494.68 638.43C495.88 639.82 497.09 641.16 498.29 642.47C499.49 643.78 500.70 645.06 501.90 646.29C503.10 647.53 504.31 648.74 505.51 649.91C506.71 651.08 507.92 652.22 509.12 653.32C510.32 654.43 511.53 655.50 512.73 656.54C513.93 657.58 515.14 658.60 516.34 659.58C517.54 660.56 518.75 661.51 519.95 662.44C521.15 663.36 522.36 664.26 523.56 665.12C524.76 665.99 525.97 666.84 527.17 667.65C528.37 668.47 529.58 669.26 530.78 670.03C531.98 670.80 533.19 671.54 534.39 672.27C535.59 672.99 536.80 673.69 538.00 674.37C539.20 675.05 540.41 675.70 541.61 676.34C542.81 676.98 544.01 677.60 545.22 678.20C546.42 678.80 547.62 679.39 548.83 679.95C550.03 680.52 551.23 681.07 552.44 681.61C553.64 682.14 554.84 682.67 556.05 683.17C557.25 683.68 558.45 684.17 559.66 684.66C560.86 685.14 562.06 685.60 563.27 686.06C564.47 686.51 565.67 686.96 566.88 687.39C568.08 687.82 569.28 688.24 570.49 688.64C571.69 689.05 572.89 689.44 574.10 689.82C575.30 690.21 576.50 690.58 577.71 690.94C578.91 691.30 580.11 691.65 581.32 691.98C582.52 692.32 583.72 692.65 584.93 692.96C586.13 693.28 587.33 693.59 588.54 693.88C589.74 694.18 590.94 694.47 592.15 694.74C593.35 695.02 594.55 695.29 595.76 695.55C596.96 695.80 598.16 696.05 599.37 696.29C600.57 696.53 601.77 696.76 602.97 696.98C604.18 697.21 605.38 697.42 606.58 697.63C607.79 697.83 608.99 698.03 610.19 698.22C611.40 698.41 612.60 698.60 613.80 698.77C615.01 698.95 616.21 699.12 617.41 699.28C618.62 699.44 619.82 699.60 621.02 699.75C622.23 699.90 623.43 700.05 624.63 700.19C625.84 700.33 627.04 700.47 628.24 700.60C629.45 700.73 630.65 700.86 631.85 700.98C633.06 701.10 634.26 701.22 635.46 701.34C636.67 701.46 637.87 701.57 639.07 701.68C640.28 701.79 641.48 701.90 642.68 702.01C643.89 702.11 645.09 702.22 646.29 702.32C647.50 702.42 648.70 702.52 649.90 702.62C651.11 702.73 652.31 702.83 653.51 702.93C654.72 703.03 655.92 703.13 657.12 703.23C658.32 703.33 659.53 703.43 660.73 703.53C661.93 703.63 663.14 703.73 664.34 703.84C665.54 703.94 666.75 704.05 667.95 704.16C669.15 704.27 670.36 704.38 671.56 704.49C672.76 704.61 673.97 704.73 675.17 704.85C676.37 704.97 677.58 705.09 678.78 705.22C679.98 705.35 681.19 705.48 682.39 705.62C683.59 705.76 684.80 705.90 686.00 706.05" fill="none" stroke="#03a650" stroke-width="2.90"/>
<path d="M108.43 675.39C109.64 675.14 110.84 674.89 112.04 674.64C113.25 674.40 114.45 674.15 115.65 673.91C116.86 673.66 118.06 673.42 119.26 673.17C120.47 672.93 121.67 672.69 122.87 672.44C124.08 672.20 125.28 671.96 126.48 671.72C127.69 671.48 128.89 671.24 130.09 670.99C131.30 670.75 132.50 670.51 133.70 670.27C134.91 670.03 136.11 669.78 137.31 669.54C138.52 669.30 139.72 669.05 140.92 668.81C142.12 668.57 143.33 668.32 144.53 668.07C145.73 667.83 146.94 667.58 148.14 667.33C149.34 667.08 150.55 666.83 151.75 666.58C152.95 666.33 154.16 666.07 155.36 665.82C156.56 665.56 157.77 665.30 158.97 665.05C160.17 664.79 161.38 664.52 162.58 664.26C163.78 664.00 164.99 663.73 166.19 663.46C167.39 663.19 168.60 662.92 169.80 662.65C171.00 662.37 172.21 662.09 173.41 661.81C174.61 661.53 175.82 661.25 177.02 660.96C178.22 660.67 179.43 660.38 180.63 660.09C181.83 659.80 183.04 659.50 184.24 659.20C185.44 658.89 186.65 658.59 187.85 658.28C189.05 657.97 190.26 657.65 191.46 657.34C192.66 657.02 193.87 656.69 195.07 656.37C196.27 656.04 197.48 655.71 198.68 655.37C199.88 655.03 201.08 654.69 202.29 654.34C203.49 653.99 204.69 653.64 205.90 653.28C207.10 652.92 208.30 652.55 209.51 652.18C210.71 651.81 211.91 651.44 213.12 651.05C214.32 650.67 215.52 650.28 216.73 649.88C217.93 649.49 219.13 649.08 220.34 648.67C221.54 648.26 222.74 647.85 223.95 647.42C225.15 647.00 226.35 646.57 227.56 646.13C228.76 645.69 229.96 645.25 231.17 644.79C232.37 644.34 233.57 643.88 234.78 643.41C235.98 642.94 237.18 642.46 238.39 641.97C239.59 641.49 240.79 640.99 242.00 640.49C243.20 639.98 244.40 639.47 245.61 638.95C246.81 638.43 248.01 637.90 249.22 637.36C250.42 636.82 251.62 636.27 252.83 635.72C254.03 635.16 255.23 634.60 256.43 634.03C257.64 633.46 258.84 632.89 260.04 632.30C261.25 631.72 262.45 631.13 263.65 630.54C264.86 629.94 266.06 629.34 267.26 628.74C268.47 628.13 269.67 627.52 270.87 626.91C272.08 626.29 273.28 625.67 274.48 625.05C275.69 624.43 276.89 623.80 278.09 623.17C279.30 622.54 280.50 621.91 281.70 621.28C282.91 620.64 284.11 620.01 285.31 619.36C286.52 618.72 287.72 618.07 288.92 617.42C290.13 616.77 291.33 616.11 292.53 615.44C293.74 614.77 294.94 614.09 296.14 613.40C297.35 612.71 298.55 612.01 299.75 611.29C300.96 610.58 302.16 609.85 303.36 609.11C304.57 608.36 305.77 607.60 306.97 606.83C308.18 606.06 309.38 605.27 310.58 604.47C311.79 603.67 312.99 602.86 314.19 602.03C315.39 601.21 316.60 600.37 317.80 599.52C319.00 598.68 320.21 597.82 321.41 596.95C322.61 596.08 323.82 595.21 325.02 594.32C326.22 593.44 327.43 592.54 328.63 591.65C329.83 590.75 331.04 589.84 332.24 588.93C333.44 588.03 334.65 587.11 335.85 586.20C337.05 585.29 338.26 584.37 339.46 583.46C340.66 582.55 341.87 581.63 343.07 580.72C344.27 579.82 345.48 578.91 346.68 578.01C347.88 577.11 349.09 576.22 350.29 575.34C351.49 574.46 352.70 573.59 353.90 572.73C355.10 571.87 356.31 571.02 357.51 570.19C358.71 569.36 359.92 568.55 361.12 567.75C362.32 566.96 363.53 566.18 364.73 565.43C365.93 564.67 367.14 563.94 368.34 563.23C369.54 562.52 370.74 561.83 371.95 561.18C373.15 560.52 374.35 559.89 375.56 559.29C376.76 558.69 377.96 558.12 379.17 557.59C380.37 557.05 381.57 556.55 382.78 556.09C383.98 555.62 385.18 555.19 386.39 554.81C387.59 554.43 388.79 554.09 390.00 553.81C391.20 553.53 392.40 553.31 393.61 553.16C394.81 553.00 396.01 552.91 397.22 552.90C398.42 552.88 399.62 552.95 400.83 553.08C402.03 553.21 403.23 553.41 404.44 553.67C405.64 553.93 406.84 554.25 408.05 554.63C409.25 555.00 410.45 555.43 411.66 555.91C412.86 556.39 414.06 556.91 415.27 557.49C416.47 558.06 417.67 558.67 418.88 559.34C420.08 560.00 421.28 560.71 422.49 561.46C423.69 562.22 424.89 563.01 426.10 563.86C427.30 564.70 428.50 565.58 429.70 566.51C430.91 567.44 432.11 568.41 433.31 569.42C434.52 570.43 435.72 571.48 436.92 572.58C438.13 573.67 439.33 574.80 440.53 575.98C441.74 577.15 442.94 578.36 444.14 579.60C445.35 580.83 446.55 582.08 447.75 583.34C448.96 584.59 450.16 585.85 451.36 587.09C452.57 588.33 453.77 589.56 454.97 590.75C456.18 591.94 457.38 593.10 458.58 594.24C459.79 595.38 460.99 596.50 462.19 597.62C463.40 598.74 464.60 599.86 465.80 600.99C467.01 602.12 468.21 603.26 469.41 604.42C470.62 605.59 471.82 606.78 473.02 608.00C474.23 609.21 475.43 610.44 476.63 611.69C477.84 612.94 479.04 614.21 480.24 615.49C481.45 616.76 482.65 618.05 483.85 619.35C485.05 620.64 486.26 621.94 487.46 623.24C488.66 624.54 489.87 625.84 491.07 627.14C492.27 628.44 493.48 629.73 494.68 631.02C495.88 632.31 497.09 633.59 498.29 634.87C499.49 636.14 500.70 637.41 501.90 638.67C503.10 639.93 504.31 641.18 505.51 642.41C506.71 643.65 507.92 644.88 509.12 646.09C510.32 647.31 511.53 648.51 512.73 649.70C513.93 650.88 515.14 652.05 516.34 653.21C517.54 654.37 518.75 655.50 519.95 656.62C521.15 657.74 522.36 658.85 523.56 659.93C524.76 661.01 525.97 662.08 527.17 663.12C528.37 664.16 529.58 665.19 530.78 666.19C531.98 667.19 533.19 668.18 534.39 669.14C535.59 670.10 536.80 671.04 538.00 671.96C539.20 672.88 540.41 673.77 541.61 674.64C542.81 675.52 544.01 676.37 545.22 677.19C546.42 678.02 547.62 678.82 548.83 679.60C550.03 680.38 551.23 681.13 552.44 681.86C553.64 682.59 554.84 683.29 556.05 683.97C557.25 684.65 558.45 685.30 559.66 685.93C560.86 686.55 562.06 687.16 563.27 687.74C564.47 688.31 565.67 688.87 566.88 689.41C568.08 689.94 569.28 690.46 570.49 690.95C571.69 691.44 572.89 691.92 574.10 692.37C575.30 692.83 576.50 693.26 577.71 693.68C578.91 694.10 580.11 694.50 581.32 694.89C582.52 695.28 583.72 695.65 584.93 696.01C586.13 696.36 587.33 696.71 588.54 697.04C589.74 697.37 590.94 697.68 592.15 697.99C593.35 698.30 594.55 698.59 595.76 698.88C596.96 699.16 598.16 699.44 599.37 699.70C600.57 699.97 601.77 700.23 602.97 700.48C604.18 700.74 605.38 700.98 606.58 701.22C607.79 701.46 608.99 701.70 610.19 701.93C611.40 702.16 612.60 702.38 613.80 702.60C615.01 702.82 616.21 703.03 617.41 703.24C618.62 703.45 619.82 703.65 621.02 703.85C622.23 704.05 623.43 704.25 624.63 704.44C625.84 704.63 627.04 704.81 628.24 704.99C629.45 705.17 630.65 705.35 631.85 705.52C633.06 705.69 634.26 705.86 635.46 706.02C636.67 706.18 637.87 706.34 639.07 706.49C640.28 706.65 641.48 706.80 642.68 706.94C643.89 707.09 645.09 707.23 646.29 707.36C647.50 707.50 648.70 707.63 649.90 707.76C651.11 707.89 652.31 708.02 653.51 708.14C654.72 708.26 655.92 708.38 657.12 708.49C658.32 708.60 659.53 708.71 660.73 708.82C661.93 708.93 663.14 709.03 664.34 709.13C665.54 709.23 666.75 709.33 667.95 709.42C669.15 709.51 670.36 709.60 671.56 709.69C672.76 709.78 673.97 709.86 675.17 709.94C676.37 710.02 677.58 710.10 678.78 710.17C679.98 710.24 681.19 710.32 682.39 710.38C683.59 710.45 684.80 710.52 686.00 710.58" fill="none" stroke="#03a650" stroke-width="2.90" stroke-dasharray="10.3 10.15" stroke-dashoffset="1.5"/>
<path d="M601 694V684H604.9V694Z M602.9 697V704.6H605.8V697Z M613.9 696L615.1 684.7L616.3 696Z" fill="#ff0000"/>
</g>
<path d="M108.00 2.30H686.00V716.80H108.00ZM108.00 359.80H686.00M180.25 2.30v5.20M180.25 354.60v10.40M180.25 716.80v-5.20M252.50 2.30v9.00M252.50 350.80v18.00M252.50 716.80v-9.00M324.75 2.30v5.20M324.75 354.60v10.40M324.75 716.80v-5.20M397.00 2.30v9.00M397.00 350.80v18.00M397.00 716.80v-9.00M469.25 2.30v5.20M469.25 354.60v10.40M469.25 716.80v-5.20M541.50 2.30v9.00M541.50 350.80v18.00M541.50 716.80v-9.00M613.75 2.30v5.20M613.75 354.60v10.40M613.75 716.80v-5.20M108.00 323.30h5.20M686.00 323.30h-5.20M108.00 286.80h9.00M686.00 286.80h-9.00M108.00 250.30h5.20M686.00 250.30h-5.20M108.00 213.80h9.00M686.00 213.80h-9.00M108.00 177.30h5.20M686.00 177.30h-5.20M108.00 140.80h9.00M686.00 140.80h-9.00M108.00 104.30h5.20M686.00 104.30h-5.20M108.00 67.80h9.00M686.00 67.80h-9.00M108.00 31.30h5.20M686.00 31.30h-5.20M108.00 648.05h5.20M686.00 648.05h-5.20M108.00 579.30h9.00M686.00 579.30h-9.00M108.00 510.55h5.20M686.00 510.55h-5.20M108.00 496.80h9.00M686.00 496.80h-9.00M108.00 441.80h9.00M686.00 441.80h-9.00M108.00 373.05h5.20M686.00 373.05h-5.20" fill="none" stroke="#000" stroke-width="1.80" stroke-linecap="butt"/>
<text transform="matrix(1.0000 0 0 1.0000 70.14 368.60)" font-size="33">0</text>
<text transform="matrix(1.0000 0 0 1.0000 70.88 295.60)" font-size="33">1</text>
<text transform="matrix(1.0000 0 0 1.0000 70.72 222.60)" font-size="33">2</text>
<text transform="matrix(1.0000 0 0 1.0000 70.22 149.60)" font-size="33">3</text>
<text transform="matrix(1.0000 0 0 1.0000 69.40 76.60)" font-size="33">4</text>
<text transform="matrix(1.0000 0 0 1.0000 70.14 725.60)" font-size="33">0</text>
<text transform="matrix(1.0000 0 0 1.0000 70.22 588.10)" font-size="33">5</text>
<text transform="matrix(1.0000 0 0 1.0000 53.64 450.60)" font-size="33">10</text>
<text transform="matrix(1.0000 0 0 1.0000 388.95 760.40)" font-size="33">0</text>
<text transform="matrix(1.0000 0 0 1.0000 524.38 760.40)" font-size="33">10</text>
<text transform="matrix(1.0000 0 0 1.0000 669.62 760.40)" font-size="33">20</text>
<path d="M81.0 751.3H101.2" stroke="#000" stroke-width="1.3" fill="none"/>
<text transform="matrix(1.0000 0 0 1.0000 104.20 760.40)" font-size="33">20</text>
<path d="M225.5 751.3H245.7" stroke="#000" stroke-width="1.3" fill="none"/>
<text transform="matrix(1.0000 0 0 1.0000 248.61 760.40)" font-size="33">10</text>
<path d="M305 220.3H341" stroke="#0000ff" stroke-width="2.90" fill="none"/>
<text transform="matrix(0.9626 0 0 1.0000 355.91 228.60)" font-size="33">0</text>
<text transform="matrix(0.9776 0 0 1.0000 384.61 228.60)" font-size="33">GeV</text>
<text transform="matrix(1.0841 0 0 0.9537 448.89 216.10)" font-size="22">2</text>
<path d="M305 254.4H341" stroke="#000000" stroke-width="2.90" fill="none"/>
<text transform="matrix(1.0289 0 0 1.0000 355.83 262.70)" font-size="33">0.2</text>
<text transform="matrix(0.9776 0 0 1.0000 410.41 262.70)" font-size="33">GeV</text>
<text transform="matrix(1.0841 0 0 0.9537 474.69 250.20)" font-size="22">2</text>
<path d="M305 288.5H341" stroke="#ff0000" stroke-width="2.90" fill="none"/>
<text transform="matrix(0.9945 0 0 1.0000 355.87 296.80)" font-size="33">0.4</text>
<text transform="matrix(0.9776 0 0 1.0000 410.41 296.80)" font-size="33">GeV</text>
<text transform="matrix(1.0841 0 0 0.9537 474.69 284.30)" font-size="22">2</text>
<path d="M305 322.6H341" stroke="#03a650" stroke-width="2.90" fill="none"/>
<text transform="matrix(1.0182 0 0 1.0000 355.66 330.90)" font-size="33">1.0</text>
<text transform="matrix(0.9776 0 0 1.0000 410.41 330.90)" font-size="33">GeV</text>
<text transform="matrix(1.0841 0 0 0.9537 474.69 318.40)" font-size="22">2</text>
<text transform="matrix(1.1374 0 0 1.0000 512.67 67.50)" font-size="33">PNJL</text>
<text transform="matrix(1.1266 0 0 1.0000 512.68 441.80)" font-size="33">EPNJL</text>
<g transform="translate(42.3 181.5) rotate(-90)"><text transform="matrix(1.1634 0 0 1.1062 -47.71 -0.02)" font-size="33" font-style="italic">C</text><text transform="matrix(1.5086 0 0 0.9202 -24.33 5.24)" font-size="23" font-style="italic">u</text><text transform="matrix(0.8485 0 0 1.0944 -5.05 -0.10)" font-size="33">,</text><text transform="matrix(1.1342 0 0 1.1062 8.04 -0.02)" font-size="33" font-style="italic">C</text><text transform="matrix(1.0858 0 0 1.0083 33.65 4.62)" font-size="23" font-style="italic">d</text></g>
<g transform="translate(25.8 538.4) rotate(-90)"><text transform="matrix(1.1634 0 0 1.1062 -47.71 -0.02)" font-size="33" font-style="italic">C</text><text transform="matrix(1.5086 0 0 0.9202 -24.33 5.24)" font-size="23" font-style="italic">u</text><text transform="matrix(0.8485 0 0 1.0944 -5.05 -0.10)" font-size="33">,</text><text transform="matrix(1.1342 0 0 1.1062 8.04 -0.02)" font-size="33" font-style="italic">C</text><text transform="matrix(1.0858 0 0 1.0083 33.65 4.62)" font-size="23" font-style="italic">d</text></g>
<text transform="matrix(1.2452 0 0 1.0000 263.93 808.60)" font-size="33" font-style="italic">T</text>
<path d="M298.7 800.8H319.2" stroke="#000" stroke-width="1.3" fill="none"/>
<text transform="matrix(1.2121 0 0 1.0000 327.50 808.60)" font-size="33" font-style="italic">T</text>
<text transform="matrix(1.1666 0 0 0.9511 349.40 813.38)" font-size="23" font-style="italic">c</text>
<text transform="matrix(0.9885 0 0 1.0953 364.11 809.22)" font-size="33">(</text>
<text transform="matrix(0.9496 0 0 1.0000 375.56 808.60)" font-size="33" font-style="italic">e</text>
<text transform="matrix(1.1599 0 0 1.0000 391.12 808.60)" font-size="33" font-style="italic">B</text>
<text transform="matrix(0.9297 0 0 1.0953 417.60 809.22)" font-size="33">)</text>
<text transform="matrix(0.5993 0 0 1.1975 443.52 811.57)" font-size="33">[</text>
<text transform="matrix(1.0192 0 0 1.0000 449.88 808.60)" font-size="33">M</text>
<text transform="matrix(1.0074 0 0 1.0000 479.37 808.60)" font-size="33">e</text>
<text transform="matrix(1.1126 0 0 1.0000 492.83 808.60)" font-size="33">V</text>
<text transform="matrix(0.6061 0 0 1.1975 520.60 811.57)" font-size="33">]</text>
</svg></body></html>
